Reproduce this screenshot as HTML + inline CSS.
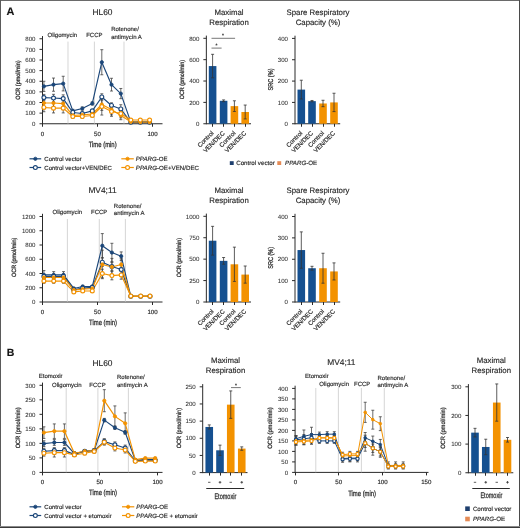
<!DOCTYPE html>
<html><head><meta charset="utf-8"><style>
html,body{margin:0;padding:0;background:#fff;}
body{width:520px;height:528px;overflow:hidden;}
svg{display:block;will-change:transform;} text{stroke:#2a2a2a;stroke-width:0.16px;text-rendering:geometricPrecision;} text.t{stroke-width:0.26px;} text.k{stroke-width:0.06px;fill:#333;}
</style></head><body>
<svg width="520" height="528" viewBox="0 0 520 528" font-family='"Liberation Sans", sans-serif'>
<rect x="0" y="0" width="520" height="528" fill="#fff"/>
<text x="6.6" y="14.6" font-size="10.9" text-anchor="start" font-weight="bold" font-style="normal" fill="#111">A</text>
<text x="6.8" y="355.8" font-size="10.5" text-anchor="start" font-weight="bold" font-style="normal" fill="#111">B</text>
<text x="102.5" y="15" font-size="8.4" text-anchor="middle" font-weight="normal" font-style="normal" fill="#2a2a2a">HL60</text>
<line x1="42.5" y1="36.05" x2="42.5" y2="124.25" stroke="#2a2a2a" stroke-width="1"/>
<line x1="39.5" y1="123.75" x2="42.5" y2="123.75" stroke="#2a2a2a" stroke-width="1"/>
<text x="35.5" y="125.95" font-size="6.1" text-anchor="end" font-weight="normal" font-style="normal" fill="#2a2a2a" class="k">0</text>
<line x1="39.5" y1="113.12" x2="42.5" y2="113.12" stroke="#2a2a2a" stroke-width="1"/>
<text x="35.5" y="115.33" font-size="6.1" text-anchor="end" font-weight="normal" font-style="normal" fill="#2a2a2a" class="k">100</text>
<line x1="39.5" y1="102.5" x2="42.5" y2="102.5" stroke="#2a2a2a" stroke-width="1"/>
<text x="35.5" y="104.7" font-size="6.1" text-anchor="end" font-weight="normal" font-style="normal" fill="#2a2a2a" class="k">200</text>
<line x1="39.5" y1="91.88" x2="42.5" y2="91.88" stroke="#2a2a2a" stroke-width="1"/>
<text x="35.5" y="94.08" font-size="6.1" text-anchor="end" font-weight="normal" font-style="normal" fill="#2a2a2a" class="k">300</text>
<line x1="39.5" y1="81.25" x2="42.5" y2="81.25" stroke="#2a2a2a" stroke-width="1"/>
<text x="35.5" y="83.45" font-size="6.1" text-anchor="end" font-weight="normal" font-style="normal" fill="#2a2a2a" class="k">400</text>
<line x1="39.5" y1="70.62" x2="42.5" y2="70.62" stroke="#2a2a2a" stroke-width="1"/>
<text x="35.5" y="72.83" font-size="6.1" text-anchor="end" font-weight="normal" font-style="normal" fill="#2a2a2a" class="k">500</text>
<line x1="39.5" y1="60" x2="42.5" y2="60" stroke="#2a2a2a" stroke-width="1"/>
<text x="35.5" y="62.2" font-size="6.1" text-anchor="end" font-weight="normal" font-style="normal" fill="#2a2a2a" class="k">600</text>
<line x1="39.5" y1="49.38" x2="42.5" y2="49.38" stroke="#2a2a2a" stroke-width="1"/>
<text x="35.5" y="51.58" font-size="6.1" text-anchor="end" font-weight="normal" font-style="normal" fill="#2a2a2a" class="k">700</text>
<line x1="39.5" y1="38.75" x2="42.5" y2="38.75" stroke="#2a2a2a" stroke-width="1"/>
<text x="35.5" y="40.95" font-size="6.1" text-anchor="end" font-weight="normal" font-style="normal" fill="#2a2a2a" class="k">800</text>
<line x1="42.5" y1="123.75" x2="162.5" y2="123.75" stroke="#2a2a2a" stroke-width="1"/>
<line x1="68" y1="41.6" x2="68" y2="123.75" stroke="#c4c4c4" stroke-width="0.7"/>
<line x1="94.4" y1="41.6" x2="94.4" y2="123.75" stroke="#c4c4c4" stroke-width="0.7"/>
<line x1="124" y1="41.6" x2="124" y2="123.75" stroke="#c4c4c4" stroke-width="0.7"/>
<text x="47.5" y="37" font-size="6" text-anchor="start" font-weight="normal" font-style="normal" fill="#2a2a2a">Oligomycin</text>
<text x="86.2" y="37" font-size="6" text-anchor="start" font-weight="normal" font-style="normal" fill="#2a2a2a">FCCP</text>
<text x="111.2" y="31.2" font-size="6" text-anchor="start" font-weight="normal" font-style="normal" fill="#2a2a2a">Rotenone/</text>
<text x="111.2" y="38.6" font-size="6" text-anchor="start" font-weight="normal" font-style="normal" fill="#2a2a2a">antimycin A</text>
<line x1="42.5" y1="123.75" x2="42.5" y2="126.75" stroke="#2a2a2a" stroke-width="1"/>
<text x="42.5" y="135.6" font-size="6.1" text-anchor="middle" font-weight="normal" font-style="normal" fill="#2a2a2a">0</text>
<line x1="97.5" y1="123.75" x2="97.5" y2="126.75" stroke="#2a2a2a" stroke-width="1"/>
<text x="97.5" y="135.6" font-size="6.1" text-anchor="middle" font-weight="normal" font-style="normal" fill="#2a2a2a">50</text>
<line x1="152.5" y1="123.75" x2="152.5" y2="126.75" stroke="#2a2a2a" stroke-width="1"/>
<text x="152.5" y="135.6" font-size="6.1" text-anchor="middle" font-weight="normal" font-style="normal" fill="#2a2a2a">100</text>
<text class="t" x="102.65" y="146.7" font-size="7.6" text-anchor="middle" fill="#2a2a2a" textLength="27.9" lengthAdjust="spacingAndGlyphs">Time (min)</text>
<text class="t" x="19.6" y="80.1" font-size="6.2" text-anchor="middle" fill="#2a2a2a" transform="rotate(-90 19.6 80.1)" textLength="39.5" lengthAdjust="spacingAndGlyphs">OCR (pmol/min)</text>
<line x1="43.9" y1="81.25" x2="43.9" y2="91.45" stroke="#3a3a3a" stroke-width="0.75"/>
<line x1="42.4" y1="81.25" x2="45.4" y2="81.25" stroke="#3a3a3a" stroke-width="0.75"/>
<line x1="42.4" y1="91.45" x2="45.4" y2="91.45" stroke="#3a3a3a" stroke-width="0.75"/>
<line x1="53.5" y1="78.06" x2="53.5" y2="91.24" stroke="#3a3a3a" stroke-width="0.75"/>
<line x1="52" y1="78.06" x2="55" y2="78.06" stroke="#3a3a3a" stroke-width="0.75"/>
<line x1="52" y1="91.24" x2="55" y2="91.24" stroke="#3a3a3a" stroke-width="0.75"/>
<line x1="63.2" y1="76.26" x2="63.2" y2="90.92" stroke="#3a3a3a" stroke-width="0.75"/>
<line x1="61.7" y1="76.26" x2="64.7" y2="76.26" stroke="#3a3a3a" stroke-width="0.75"/>
<line x1="61.7" y1="90.92" x2="64.7" y2="90.92" stroke="#3a3a3a" stroke-width="0.75"/>
<line x1="72.8" y1="109.3" x2="72.8" y2="112.49" stroke="#3a3a3a" stroke-width="0.75"/>
<line x1="71.3" y1="109.3" x2="74.3" y2="109.3" stroke="#3a3a3a" stroke-width="0.75"/>
<line x1="71.3" y1="112.49" x2="74.3" y2="112.49" stroke="#3a3a3a" stroke-width="0.75"/>
<line x1="82.3" y1="106.96" x2="82.3" y2="110.15" stroke="#3a3a3a" stroke-width="0.75"/>
<line x1="80.8" y1="106.96" x2="83.8" y2="106.96" stroke="#3a3a3a" stroke-width="0.75"/>
<line x1="80.8" y1="110.15" x2="83.8" y2="110.15" stroke="#3a3a3a" stroke-width="0.75"/>
<line x1="92.3" y1="101.86" x2="92.3" y2="105.05" stroke="#3a3a3a" stroke-width="0.75"/>
<line x1="90.8" y1="101.86" x2="93.8" y2="101.86" stroke="#3a3a3a" stroke-width="0.75"/>
<line x1="90.8" y1="105.05" x2="93.8" y2="105.05" stroke="#3a3a3a" stroke-width="0.75"/>
<line x1="101.8" y1="49.69" x2="101.8" y2="74.77" stroke="#3a3a3a" stroke-width="0.75"/>
<line x1="100.3" y1="49.69" x2="103.3" y2="49.69" stroke="#3a3a3a" stroke-width="0.75"/>
<line x1="100.3" y1="74.77" x2="103.3" y2="74.77" stroke="#3a3a3a" stroke-width="0.75"/>
<line x1="111.5" y1="78.28" x2="111.5" y2="91.03" stroke="#3a3a3a" stroke-width="0.75"/>
<line x1="110" y1="78.28" x2="113" y2="78.28" stroke="#3a3a3a" stroke-width="0.75"/>
<line x1="110" y1="91.03" x2="113" y2="91.03" stroke="#3a3a3a" stroke-width="0.75"/>
<line x1="120.8" y1="88.47" x2="120.8" y2="98.67" stroke="#3a3a3a" stroke-width="0.75"/>
<line x1="119.3" y1="88.47" x2="122.3" y2="88.47" stroke="#3a3a3a" stroke-width="0.75"/>
<line x1="119.3" y1="98.67" x2="122.3" y2="98.67" stroke="#3a3a3a" stroke-width="0.75"/>
<line x1="130.8" y1="121.62" x2="130.8" y2="122.69" stroke="#3a3a3a" stroke-width="0.75"/>
<line x1="129.3" y1="121.62" x2="132.3" y2="121.62" stroke="#3a3a3a" stroke-width="0.75"/>
<line x1="129.3" y1="122.69" x2="132.3" y2="122.69" stroke="#3a3a3a" stroke-width="0.75"/>
<line x1="140.3" y1="121.62" x2="140.3" y2="122.69" stroke="#3a3a3a" stroke-width="0.75"/>
<line x1="138.8" y1="121.62" x2="141.8" y2="121.62" stroke="#3a3a3a" stroke-width="0.75"/>
<line x1="138.8" y1="122.69" x2="141.8" y2="122.69" stroke="#3a3a3a" stroke-width="0.75"/>
<line x1="149.6" y1="121.62" x2="149.6" y2="122.69" stroke="#3a3a3a" stroke-width="0.75"/>
<line x1="148.1" y1="121.62" x2="151.1" y2="121.62" stroke="#3a3a3a" stroke-width="0.75"/>
<line x1="148.1" y1="122.69" x2="151.1" y2="122.69" stroke="#3a3a3a" stroke-width="0.75"/>
<polyline points="43.9,86.35 53.5,84.65 63.2,83.59 72.8,110.89 82.3,108.56 92.3,103.46 101.8,62.23 111.5,84.65 120.8,93.58 130.8,122.16 140.3,122.16 149.6,122.16" fill="none" stroke="#1b4679" stroke-width="1.15" stroke-linejoin="round"/>
<line x1="43.9" y1="94.42" x2="43.9" y2="100.8" stroke="#3a3a3a" stroke-width="0.75"/>
<line x1="42.4" y1="94.42" x2="45.4" y2="94.42" stroke="#3a3a3a" stroke-width="0.75"/>
<line x1="42.4" y1="100.8" x2="45.4" y2="100.8" stroke="#3a3a3a" stroke-width="0.75"/>
<line x1="53.5" y1="94.32" x2="53.5" y2="101.76" stroke="#3a3a3a" stroke-width="0.75"/>
<line x1="52" y1="94.32" x2="55" y2="94.32" stroke="#3a3a3a" stroke-width="0.75"/>
<line x1="52" y1="101.76" x2="55" y2="101.76" stroke="#3a3a3a" stroke-width="0.75"/>
<line x1="63.2" y1="94.85" x2="63.2" y2="102.29" stroke="#3a3a3a" stroke-width="0.75"/>
<line x1="61.7" y1="94.85" x2="64.7" y2="94.85" stroke="#3a3a3a" stroke-width="0.75"/>
<line x1="61.7" y1="102.29" x2="64.7" y2="102.29" stroke="#3a3a3a" stroke-width="0.75"/>
<line x1="72.8" y1="111.21" x2="72.8" y2="113.76" stroke="#3a3a3a" stroke-width="0.75"/>
<line x1="71.3" y1="111.21" x2="74.3" y2="111.21" stroke="#3a3a3a" stroke-width="0.75"/>
<line x1="71.3" y1="113.76" x2="74.3" y2="113.76" stroke="#3a3a3a" stroke-width="0.75"/>
<line x1="82.3" y1="112.28" x2="82.3" y2="114.83" stroke="#3a3a3a" stroke-width="0.75"/>
<line x1="80.8" y1="112.28" x2="83.8" y2="112.28" stroke="#3a3a3a" stroke-width="0.75"/>
<line x1="80.8" y1="114.83" x2="83.8" y2="114.83" stroke="#3a3a3a" stroke-width="0.75"/>
<line x1="92.3" y1="109.62" x2="92.3" y2="112.17" stroke="#3a3a3a" stroke-width="0.75"/>
<line x1="90.8" y1="109.62" x2="93.8" y2="109.62" stroke="#3a3a3a" stroke-width="0.75"/>
<line x1="90.8" y1="112.17" x2="93.8" y2="112.17" stroke="#3a3a3a" stroke-width="0.75"/>
<line x1="101.8" y1="93.79" x2="101.8" y2="100.16" stroke="#3a3a3a" stroke-width="0.75"/>
<line x1="100.3" y1="93.79" x2="103.3" y2="93.79" stroke="#3a3a3a" stroke-width="0.75"/>
<line x1="100.3" y1="100.16" x2="103.3" y2="100.16" stroke="#3a3a3a" stroke-width="0.75"/>
<line x1="111.5" y1="102.82" x2="111.5" y2="108.13" stroke="#3a3a3a" stroke-width="0.75"/>
<line x1="110" y1="102.82" x2="113" y2="102.82" stroke="#3a3a3a" stroke-width="0.75"/>
<line x1="110" y1="108.13" x2="113" y2="108.13" stroke="#3a3a3a" stroke-width="0.75"/>
<line x1="120.8" y1="104.73" x2="120.8" y2="113.23" stroke="#3a3a3a" stroke-width="0.75"/>
<line x1="119.3" y1="104.73" x2="122.3" y2="104.73" stroke="#3a3a3a" stroke-width="0.75"/>
<line x1="119.3" y1="113.23" x2="122.3" y2="113.23" stroke="#3a3a3a" stroke-width="0.75"/>
<line x1="130.8" y1="121.73" x2="130.8" y2="122.58" stroke="#3a3a3a" stroke-width="0.75"/>
<line x1="129.3" y1="121.73" x2="132.3" y2="121.73" stroke="#3a3a3a" stroke-width="0.75"/>
<line x1="129.3" y1="122.58" x2="132.3" y2="122.58" stroke="#3a3a3a" stroke-width="0.75"/>
<line x1="140.3" y1="121.73" x2="140.3" y2="122.58" stroke="#3a3a3a" stroke-width="0.75"/>
<line x1="138.8" y1="121.73" x2="141.8" y2="121.73" stroke="#3a3a3a" stroke-width="0.75"/>
<line x1="138.8" y1="122.58" x2="141.8" y2="122.58" stroke="#3a3a3a" stroke-width="0.75"/>
<line x1="149.6" y1="121.73" x2="149.6" y2="122.58" stroke="#3a3a3a" stroke-width="0.75"/>
<line x1="148.1" y1="121.73" x2="151.1" y2="121.73" stroke="#3a3a3a" stroke-width="0.75"/>
<line x1="148.1" y1="122.58" x2="151.1" y2="122.58" stroke="#3a3a3a" stroke-width="0.75"/>
<polyline points="43.9,97.61 53.5,98.04 63.2,98.57 72.8,112.49 82.3,113.55 92.3,110.89 101.8,96.97 111.5,105.47 120.8,108.98 130.8,122.16 140.3,122.16 149.6,122.16" fill="none" stroke="#1b4679" stroke-width="1.15" stroke-linejoin="round"/>
<line x1="43.9" y1="98.78" x2="43.9" y2="107.28" stroke="#3a3a3a" stroke-width="0.75"/>
<line x1="42.4" y1="98.78" x2="45.4" y2="98.78" stroke="#3a3a3a" stroke-width="0.75"/>
<line x1="42.4" y1="107.28" x2="45.4" y2="107.28" stroke="#3a3a3a" stroke-width="0.75"/>
<line x1="53.5" y1="97.72" x2="53.5" y2="108.34" stroke="#3a3a3a" stroke-width="0.75"/>
<line x1="52" y1="97.72" x2="55" y2="97.72" stroke="#3a3a3a" stroke-width="0.75"/>
<line x1="52" y1="108.34" x2="55" y2="108.34" stroke="#3a3a3a" stroke-width="0.75"/>
<line x1="63.2" y1="97.72" x2="63.2" y2="109.41" stroke="#3a3a3a" stroke-width="0.75"/>
<line x1="61.7" y1="97.72" x2="64.7" y2="97.72" stroke="#3a3a3a" stroke-width="0.75"/>
<line x1="61.7" y1="109.41" x2="64.7" y2="109.41" stroke="#3a3a3a" stroke-width="0.75"/>
<line x1="72.8" y1="113.87" x2="72.8" y2="117.06" stroke="#3a3a3a" stroke-width="0.75"/>
<line x1="71.3" y1="113.87" x2="74.3" y2="113.87" stroke="#3a3a3a" stroke-width="0.75"/>
<line x1="71.3" y1="117.06" x2="74.3" y2="117.06" stroke="#3a3a3a" stroke-width="0.75"/>
<line x1="82.3" y1="113.34" x2="82.3" y2="116.53" stroke="#3a3a3a" stroke-width="0.75"/>
<line x1="80.8" y1="113.34" x2="83.8" y2="113.34" stroke="#3a3a3a" stroke-width="0.75"/>
<line x1="80.8" y1="116.53" x2="83.8" y2="116.53" stroke="#3a3a3a" stroke-width="0.75"/>
<line x1="92.3" y1="112.38" x2="92.3" y2="115.57" stroke="#3a3a3a" stroke-width="0.75"/>
<line x1="90.8" y1="112.38" x2="93.8" y2="112.38" stroke="#3a3a3a" stroke-width="0.75"/>
<line x1="90.8" y1="115.57" x2="93.8" y2="115.57" stroke="#3a3a3a" stroke-width="0.75"/>
<line x1="101.8" y1="98.67" x2="101.8" y2="110.36" stroke="#3a3a3a" stroke-width="0.75"/>
<line x1="100.3" y1="98.67" x2="103.3" y2="98.67" stroke="#3a3a3a" stroke-width="0.75"/>
<line x1="100.3" y1="110.36" x2="103.3" y2="110.36" stroke="#3a3a3a" stroke-width="0.75"/>
<line x1="111.5" y1="104.2" x2="111.5" y2="114.83" stroke="#3a3a3a" stroke-width="0.75"/>
<line x1="110" y1="104.2" x2="113" y2="104.2" stroke="#3a3a3a" stroke-width="0.75"/>
<line x1="110" y1="114.83" x2="113" y2="114.83" stroke="#3a3a3a" stroke-width="0.75"/>
<line x1="120.8" y1="111.21" x2="120.8" y2="119.71" stroke="#3a3a3a" stroke-width="0.75"/>
<line x1="119.3" y1="111.21" x2="122.3" y2="111.21" stroke="#3a3a3a" stroke-width="0.75"/>
<line x1="119.3" y1="119.71" x2="122.3" y2="119.71" stroke="#3a3a3a" stroke-width="0.75"/>
<line x1="130.8" y1="121.31" x2="130.8" y2="122.37" stroke="#3a3a3a" stroke-width="0.75"/>
<line x1="129.3" y1="121.31" x2="132.3" y2="121.31" stroke="#3a3a3a" stroke-width="0.75"/>
<line x1="129.3" y1="122.37" x2="132.3" y2="122.37" stroke="#3a3a3a" stroke-width="0.75"/>
<line x1="140.3" y1="121.62" x2="140.3" y2="122.69" stroke="#3a3a3a" stroke-width="0.75"/>
<line x1="138.8" y1="121.62" x2="141.8" y2="121.62" stroke="#3a3a3a" stroke-width="0.75"/>
<line x1="138.8" y1="122.69" x2="141.8" y2="122.69" stroke="#3a3a3a" stroke-width="0.75"/>
<line x1="149.6" y1="121.62" x2="149.6" y2="122.69" stroke="#3a3a3a" stroke-width="0.75"/>
<line x1="148.1" y1="121.62" x2="151.1" y2="121.62" stroke="#3a3a3a" stroke-width="0.75"/>
<line x1="148.1" y1="122.69" x2="151.1" y2="122.69" stroke="#3a3a3a" stroke-width="0.75"/>
<polyline points="43.9,103.03 53.5,103.03 63.2,103.56 72.8,115.46 82.3,114.93 92.3,113.97 101.8,104.52 111.5,109.51 120.8,115.46 130.8,121.84 140.3,122.16 149.6,122.16" fill="none" stroke="#F39200" stroke-width="1.15" stroke-linejoin="round"/>
<line x1="43.9" y1="103.24" x2="43.9" y2="111.74" stroke="#3a3a3a" stroke-width="0.75"/>
<line x1="42.4" y1="103.24" x2="45.4" y2="103.24" stroke="#3a3a3a" stroke-width="0.75"/>
<line x1="42.4" y1="111.74" x2="45.4" y2="111.74" stroke="#3a3a3a" stroke-width="0.75"/>
<line x1="53.5" y1="103.35" x2="53.5" y2="112.91" stroke="#3a3a3a" stroke-width="0.75"/>
<line x1="52" y1="103.35" x2="55" y2="103.35" stroke="#3a3a3a" stroke-width="0.75"/>
<line x1="52" y1="112.91" x2="55" y2="112.91" stroke="#3a3a3a" stroke-width="0.75"/>
<line x1="63.2" y1="103.35" x2="63.2" y2="112.91" stroke="#3a3a3a" stroke-width="0.75"/>
<line x1="61.7" y1="103.35" x2="64.7" y2="103.35" stroke="#3a3a3a" stroke-width="0.75"/>
<line x1="61.7" y1="112.91" x2="64.7" y2="112.91" stroke="#3a3a3a" stroke-width="0.75"/>
<line x1="72.8" y1="114.93" x2="72.8" y2="118.12" stroke="#3a3a3a" stroke-width="0.75"/>
<line x1="71.3" y1="114.93" x2="74.3" y2="114.93" stroke="#3a3a3a" stroke-width="0.75"/>
<line x1="71.3" y1="118.12" x2="74.3" y2="118.12" stroke="#3a3a3a" stroke-width="0.75"/>
<line x1="82.3" y1="114.93" x2="82.3" y2="118.12" stroke="#3a3a3a" stroke-width="0.75"/>
<line x1="80.8" y1="114.93" x2="83.8" y2="114.93" stroke="#3a3a3a" stroke-width="0.75"/>
<line x1="80.8" y1="118.12" x2="83.8" y2="118.12" stroke="#3a3a3a" stroke-width="0.75"/>
<line x1="92.3" y1="113.87" x2="92.3" y2="117.06" stroke="#3a3a3a" stroke-width="0.75"/>
<line x1="90.8" y1="113.87" x2="93.8" y2="113.87" stroke="#3a3a3a" stroke-width="0.75"/>
<line x1="90.8" y1="117.06" x2="93.8" y2="117.06" stroke="#3a3a3a" stroke-width="0.75"/>
<line x1="101.8" y1="98.04" x2="101.8" y2="115.04" stroke="#3a3a3a" stroke-width="0.75"/>
<line x1="100.3" y1="98.04" x2="103.3" y2="98.04" stroke="#3a3a3a" stroke-width="0.75"/>
<line x1="100.3" y1="115.04" x2="103.3" y2="115.04" stroke="#3a3a3a" stroke-width="0.75"/>
<line x1="111.5" y1="106.75" x2="111.5" y2="116.31" stroke="#3a3a3a" stroke-width="0.75"/>
<line x1="110" y1="106.75" x2="113" y2="106.75" stroke="#3a3a3a" stroke-width="0.75"/>
<line x1="110" y1="116.31" x2="113" y2="116.31" stroke="#3a3a3a" stroke-width="0.75"/>
<line x1="120.8" y1="109.3" x2="120.8" y2="117.8" stroke="#3a3a3a" stroke-width="0.75"/>
<line x1="119.3" y1="109.3" x2="122.3" y2="109.3" stroke="#3a3a3a" stroke-width="0.75"/>
<line x1="119.3" y1="117.8" x2="122.3" y2="117.8" stroke="#3a3a3a" stroke-width="0.75"/>
<line x1="130.8" y1="119.5" x2="130.8" y2="120.56" stroke="#3a3a3a" stroke-width="0.75"/>
<line x1="129.3" y1="119.5" x2="132.3" y2="119.5" stroke="#3a3a3a" stroke-width="0.75"/>
<line x1="129.3" y1="120.56" x2="132.3" y2="120.56" stroke="#3a3a3a" stroke-width="0.75"/>
<line x1="140.3" y1="119.5" x2="140.3" y2="120.56" stroke="#3a3a3a" stroke-width="0.75"/>
<line x1="138.8" y1="119.5" x2="141.8" y2="119.5" stroke="#3a3a3a" stroke-width="0.75"/>
<line x1="138.8" y1="120.56" x2="141.8" y2="120.56" stroke="#3a3a3a" stroke-width="0.75"/>
<line x1="149.6" y1="119.5" x2="149.6" y2="120.56" stroke="#3a3a3a" stroke-width="0.75"/>
<line x1="148.1" y1="119.5" x2="151.1" y2="119.5" stroke="#3a3a3a" stroke-width="0.75"/>
<line x1="148.1" y1="120.56" x2="151.1" y2="120.56" stroke="#3a3a3a" stroke-width="0.75"/>
<polyline points="43.9,107.49 53.5,108.13 63.2,108.13 72.8,116.53 82.3,116.53 92.3,115.46 101.8,106.54 111.5,111.53 120.8,113.55 130.8,120.03 140.3,120.03 149.6,120.03" fill="none" stroke="#F39200" stroke-width="1.15" stroke-linejoin="round"/>
<circle cx="43.9" cy="86.35" r="1.65" fill="#1b4679" stroke="#1b4679" stroke-width="0.8"/>
<circle cx="53.5" cy="84.65" r="1.65" fill="#1b4679" stroke="#1b4679" stroke-width="0.8"/>
<circle cx="63.2" cy="83.59" r="1.65" fill="#1b4679" stroke="#1b4679" stroke-width="0.8"/>
<circle cx="72.8" cy="110.89" r="1.65" fill="#1b4679" stroke="#1b4679" stroke-width="0.8"/>
<circle cx="82.3" cy="108.56" r="1.65" fill="#1b4679" stroke="#1b4679" stroke-width="0.8"/>
<circle cx="92.3" cy="103.46" r="1.65" fill="#1b4679" stroke="#1b4679" stroke-width="0.8"/>
<circle cx="101.8" cy="62.23" r="1.65" fill="#1b4679" stroke="#1b4679" stroke-width="0.8"/>
<circle cx="111.5" cy="84.65" r="1.65" fill="#1b4679" stroke="#1b4679" stroke-width="0.8"/>
<circle cx="120.8" cy="93.58" r="1.65" fill="#1b4679" stroke="#1b4679" stroke-width="0.8"/>
<circle cx="130.8" cy="122.16" r="1.65" fill="#1b4679" stroke="#1b4679" stroke-width="0.8"/>
<circle cx="140.3" cy="122.16" r="1.65" fill="#1b4679" stroke="#1b4679" stroke-width="0.8"/>
<circle cx="149.6" cy="122.16" r="1.65" fill="#1b4679" stroke="#1b4679" stroke-width="0.8"/>
<circle cx="43.9" cy="97.61" r="1.95" fill="#fff" stroke="#1b4679" stroke-width="1.15"/>
<circle cx="53.5" cy="98.04" r="1.95" fill="#fff" stroke="#1b4679" stroke-width="1.15"/>
<circle cx="63.2" cy="98.57" r="1.95" fill="#fff" stroke="#1b4679" stroke-width="1.15"/>
<circle cx="72.8" cy="112.49" r="1.95" fill="#fff" stroke="#1b4679" stroke-width="1.15"/>
<circle cx="82.3" cy="113.55" r="1.95" fill="#fff" stroke="#1b4679" stroke-width="1.15"/>
<circle cx="92.3" cy="110.89" r="1.95" fill="#fff" stroke="#1b4679" stroke-width="1.15"/>
<circle cx="101.8" cy="96.97" r="1.95" fill="#fff" stroke="#1b4679" stroke-width="1.15"/>
<circle cx="111.5" cy="105.47" r="1.95" fill="#fff" stroke="#1b4679" stroke-width="1.15"/>
<circle cx="120.8" cy="108.98" r="1.95" fill="#fff" stroke="#1b4679" stroke-width="1.15"/>
<circle cx="130.8" cy="122.16" r="1.95" fill="#fff" stroke="#1b4679" stroke-width="1.15"/>
<circle cx="140.3" cy="122.16" r="1.95" fill="#fff" stroke="#1b4679" stroke-width="1.15"/>
<circle cx="149.6" cy="122.16" r="1.95" fill="#fff" stroke="#1b4679" stroke-width="1.15"/>
<circle cx="43.9" cy="103.03" r="1.65" fill="#F39200" stroke="#F39200" stroke-width="0.8"/>
<circle cx="53.5" cy="103.03" r="1.65" fill="#F39200" stroke="#F39200" stroke-width="0.8"/>
<circle cx="63.2" cy="103.56" r="1.65" fill="#F39200" stroke="#F39200" stroke-width="0.8"/>
<circle cx="72.8" cy="115.46" r="1.65" fill="#F39200" stroke="#F39200" stroke-width="0.8"/>
<circle cx="82.3" cy="114.93" r="1.65" fill="#F39200" stroke="#F39200" stroke-width="0.8"/>
<circle cx="92.3" cy="113.97" r="1.65" fill="#F39200" stroke="#F39200" stroke-width="0.8"/>
<circle cx="101.8" cy="104.52" r="1.65" fill="#F39200" stroke="#F39200" stroke-width="0.8"/>
<circle cx="111.5" cy="109.51" r="1.65" fill="#F39200" stroke="#F39200" stroke-width="0.8"/>
<circle cx="120.8" cy="115.46" r="1.65" fill="#F39200" stroke="#F39200" stroke-width="0.8"/>
<circle cx="130.8" cy="121.84" r="1.65" fill="#F39200" stroke="#F39200" stroke-width="0.8"/>
<circle cx="140.3" cy="122.16" r="1.65" fill="#F39200" stroke="#F39200" stroke-width="0.8"/>
<circle cx="149.6" cy="122.16" r="1.65" fill="#F39200" stroke="#F39200" stroke-width="0.8"/>
<circle cx="43.9" cy="107.49" r="1.95" fill="#fff" stroke="#F39200" stroke-width="1.15"/>
<circle cx="53.5" cy="108.13" r="1.95" fill="#fff" stroke="#F39200" stroke-width="1.15"/>
<circle cx="63.2" cy="108.13" r="1.95" fill="#fff" stroke="#F39200" stroke-width="1.15"/>
<circle cx="72.8" cy="116.53" r="1.95" fill="#fff" stroke="#F39200" stroke-width="1.15"/>
<circle cx="82.3" cy="116.53" r="1.95" fill="#fff" stroke="#F39200" stroke-width="1.15"/>
<circle cx="92.3" cy="115.46" r="1.95" fill="#fff" stroke="#F39200" stroke-width="1.15"/>
<circle cx="101.8" cy="106.54" r="1.95" fill="#fff" stroke="#F39200" stroke-width="1.15"/>
<circle cx="111.5" cy="111.53" r="1.95" fill="#fff" stroke="#F39200" stroke-width="1.15"/>
<circle cx="120.8" cy="113.55" r="1.95" fill="#fff" stroke="#F39200" stroke-width="1.15"/>
<circle cx="130.8" cy="120.03" r="1.95" fill="#fff" stroke="#F39200" stroke-width="1.15"/>
<circle cx="140.3" cy="120.03" r="1.95" fill="#fff" stroke="#F39200" stroke-width="1.15"/>
<circle cx="149.6" cy="120.03" r="1.95" fill="#fff" stroke="#F39200" stroke-width="1.15"/>
<line x1="29.5" y1="158.8" x2="41.2" y2="158.8" stroke="#1b4679" stroke-width="1.2"/>
<circle cx="35.35" cy="158.8" r="1.65" fill="#1b4679" stroke="#1b4679" stroke-width="0.8"/>
<text x="44.3" y="160.9" font-size="6.1" fill="#2a2a2a" textLength="37.4" lengthAdjust="spacingAndGlyphs">Control vector</text>
<line x1="29.5" y1="167.5" x2="41.2" y2="167.5" stroke="#1b4679" stroke-width="1.2"/>
<circle cx="35.35" cy="167.5" r="1.95" fill="#fff" stroke="#1b4679" stroke-width="1.15"/>
<text x="44.3" y="169.6" font-size="6.1" fill="#2a2a2a" textLength="67.6" lengthAdjust="spacingAndGlyphs">Control vector+VEN/DEC</text>
<line x1="121.3" y1="158.8" x2="133.8" y2="158.8" stroke="#F39200" stroke-width="1.2"/>
<circle cx="127.55" cy="158.8" r="1.65" fill="#F39200" stroke="#F39200" stroke-width="0.8"/>
<text x="135.8" y="160.9" font-size="6.1" fill="#2a2a2a"><tspan font-style="italic">PPARG</tspan>-OE</text>
<line x1="121.3" y1="167.5" x2="133.8" y2="167.5" stroke="#F39200" stroke-width="1.2"/>
<circle cx="127.55" cy="167.5" r="1.95" fill="#fff" stroke="#F39200" stroke-width="1.15"/>
<text x="135.8" y="169.6" font-size="6.1" fill="#2a2a2a" textLength="63.2" lengthAdjust="spacingAndGlyphs"><tspan font-style="italic">PPARG</tspan>-OE+VEN/DEC</text>
<text x="229" y="15" font-size="7.8" text-anchor="middle" font-weight="normal" font-style="normal" fill="#2a2a2a">Maximal</text>
<text x="229" y="25" font-size="7.8" text-anchor="middle" font-weight="normal" font-style="normal" fill="#2a2a2a">Respiration</text>
<line x1="206.35" y1="35.6" x2="206.35" y2="124.25" stroke="#2a2a2a" stroke-width="1"/>
<line x1="203.35" y1="123.75" x2="206.35" y2="123.75" stroke="#2a2a2a" stroke-width="1"/>
<text x="199.35" y="125.95" font-size="6.1" text-anchor="end" font-weight="normal" font-style="normal" fill="#2a2a2a" class="k">0</text>
<line x1="203.35" y1="102.39" x2="206.35" y2="102.39" stroke="#2a2a2a" stroke-width="1"/>
<text x="199.35" y="104.59" font-size="6.1" text-anchor="end" font-weight="normal" font-style="normal" fill="#2a2a2a" class="k">200</text>
<line x1="203.35" y1="81.03" x2="206.35" y2="81.03" stroke="#2a2a2a" stroke-width="1"/>
<text x="199.35" y="83.23" font-size="6.1" text-anchor="end" font-weight="normal" font-style="normal" fill="#2a2a2a" class="k">400</text>
<line x1="203.35" y1="59.66" x2="206.35" y2="59.66" stroke="#2a2a2a" stroke-width="1"/>
<text x="199.35" y="61.86" font-size="6.1" text-anchor="end" font-weight="normal" font-style="normal" fill="#2a2a2a" class="k">600</text>
<line x1="203.35" y1="38.3" x2="206.35" y2="38.3" stroke="#2a2a2a" stroke-width="1"/>
<text x="199.35" y="40.5" font-size="6.1" text-anchor="end" font-weight="normal" font-style="normal" fill="#2a2a2a" class="k">800</text>
<line x1="206.35" y1="123.75" x2="251" y2="123.75" stroke="#2a2a2a" stroke-width="1"/>
<text class="t" x="183.7" y="79.6" font-size="6.2" text-anchor="middle" fill="#2a2a2a" transform="rotate(-90 183.7 79.6)" textLength="39.5" lengthAdjust="spacingAndGlyphs">OCR (pmol/min)</text>
<rect x="208.8" y="66.07" width="7.6" height="57.68" fill="#155090"/>
<rect x="219.8" y="100.79" width="7.6" height="22.96" fill="#155090"/>
<rect x="230.6" y="106.13" width="7.6" height="17.62" fill="#F39200"/>
<rect x="241.4" y="112" width="7.6" height="11.75" fill="#F39200"/>
<line x1="212.6" y1="54.32" x2="212.6" y2="77.82" stroke="#333" stroke-width="0.8"/>
<line x1="211.1" y1="54.32" x2="214.1" y2="54.32" stroke="#333" stroke-width="0.8"/>
<line x1="211.1" y1="77.82" x2="214.1" y2="77.82" stroke="#333" stroke-width="0.8"/>
<line x1="223.6" y1="99.93" x2="223.6" y2="101.64" stroke="#333" stroke-width="0.8"/>
<line x1="222.1" y1="99.93" x2="225.1" y2="99.93" stroke="#333" stroke-width="0.8"/>
<line x1="222.1" y1="101.64" x2="225.1" y2="101.64" stroke="#333" stroke-width="0.8"/>
<line x1="234.4" y1="100.79" x2="234.4" y2="111.47" stroke="#333" stroke-width="0.8"/>
<line x1="232.9" y1="100.79" x2="235.9" y2="100.79" stroke="#333" stroke-width="0.8"/>
<line x1="232.9" y1="111.47" x2="235.9" y2="111.47" stroke="#333" stroke-width="0.8"/>
<line x1="245.2" y1="105.06" x2="245.2" y2="118.94" stroke="#333" stroke-width="0.8"/>
<line x1="243.7" y1="105.06" x2="246.7" y2="105.06" stroke="#333" stroke-width="0.8"/>
<line x1="243.7" y1="118.94" x2="246.7" y2="118.94" stroke="#333" stroke-width="0.8"/>
<line x1="212.5" y1="123.75" x2="212.5" y2="126.75" stroke="#2a2a2a" stroke-width="1"/>
<line x1="223.5" y1="123.75" x2="223.5" y2="126.75" stroke="#2a2a2a" stroke-width="1"/>
<line x1="234.5" y1="123.75" x2="234.5" y2="126.75" stroke="#2a2a2a" stroke-width="1"/>
<line x1="245.5" y1="123.75" x2="245.5" y2="126.75" stroke="#2a2a2a" stroke-width="1"/>
<text x="214.1" y="133.55" font-size="6.2" fill="#2a2a2a" text-anchor="end" transform="rotate(-45 214.1 133.55)">Control</text>
<text x="225.1" y="133.55" font-size="6.2" fill="#2a2a2a" text-anchor="end" transform="rotate(-45 225.1 133.55)">VEN/DEC</text>
<text x="235.9" y="133.55" font-size="6.2" fill="#2a2a2a" text-anchor="end" transform="rotate(-45 235.9 133.55)">Control</text>
<text x="246.7" y="133.55" font-size="6.2" fill="#2a2a2a" text-anchor="end" transform="rotate(-45 246.7 133.55)">VEN/DEC</text>
<line x1="211.5" y1="48.1" x2="221.6" y2="48.1" stroke="#555" stroke-width="0.8"/>
<text x="216.6" y="47.2" font-size="5" text-anchor="middle" font-weight="normal" font-style="normal" fill="#2a2a2a">*</text>
<line x1="211.5" y1="38.3" x2="235.1" y2="38.3" stroke="#555" stroke-width="0.8"/>
<text x="223" y="37.2" font-size="5" text-anchor="middle" font-weight="normal" font-style="normal" fill="#2a2a2a">*</text>
<rect x="229.8" y="161.2" width="3.9" height="3.8" fill="#1e3f6e"/>
<text x="236.2" y="165.2" font-size="6.2" text-anchor="start" font-weight="normal" font-style="normal" fill="#2a2a2a">Control vector</text>
<rect x="277.3" y="161.2" width="3.9" height="3.8" fill="#E48A55"/>
<text x="285" y="165.2" font-size="6.2" fill="#2a2a2a"><tspan font-style="italic">PPARG</tspan>-OE</text>
<text x="318" y="15" font-size="7.8" text-anchor="middle" font-weight="normal" font-style="normal" fill="#2a2a2a">Spare Respiratory</text>
<text x="318" y="25" font-size="7.8" text-anchor="middle" font-weight="normal" font-style="normal" fill="#2a2a2a">Capacity (%)</text>
<line x1="295" y1="35.7" x2="295" y2="124.25" stroke="#2a2a2a" stroke-width="1"/>
<line x1="292" y1="123.75" x2="295" y2="123.75" stroke="#2a2a2a" stroke-width="1"/>
<text x="288" y="125.95" font-size="6.1" text-anchor="end" font-weight="normal" font-style="normal" fill="#2a2a2a" class="k">0</text>
<line x1="292" y1="102.41" x2="295" y2="102.41" stroke="#2a2a2a" stroke-width="1"/>
<text x="288" y="104.61" font-size="6.1" text-anchor="end" font-weight="normal" font-style="normal" fill="#2a2a2a" class="k">100</text>
<line x1="292" y1="81.08" x2="295" y2="81.08" stroke="#2a2a2a" stroke-width="1"/>
<text x="288" y="83.28" font-size="6.1" text-anchor="end" font-weight="normal" font-style="normal" fill="#2a2a2a" class="k">200</text>
<line x1="292" y1="59.74" x2="295" y2="59.74" stroke="#2a2a2a" stroke-width="1"/>
<text x="288" y="61.94" font-size="6.1" text-anchor="end" font-weight="normal" font-style="normal" fill="#2a2a2a" class="k">300</text>
<line x1="292" y1="38.4" x2="295" y2="38.4" stroke="#2a2a2a" stroke-width="1"/>
<text x="288" y="40.6" font-size="6.1" text-anchor="end" font-weight="normal" font-style="normal" fill="#2a2a2a" class="k">400</text>
<line x1="295" y1="123.75" x2="340.2" y2="123.75" stroke="#2a2a2a" stroke-width="1"/>
<text class="t" x="272.6" y="79.5" font-size="7" text-anchor="middle" fill="#2a2a2a" transform="rotate(-90 272.6 79.5)" textLength="22" lengthAdjust="spacingAndGlyphs">SRC (%)</text>
<rect x="297.5" y="89.61" width="7.6" height="34.14" fill="#155090"/>
<rect x="308.2" y="101.13" width="7.6" height="22.62" fill="#155090"/>
<rect x="319.2" y="103.48" width="7.6" height="20.27" fill="#F39200"/>
<rect x="330.2" y="102.41" width="7.6" height="21.34" fill="#F39200"/>
<line x1="301.3" y1="80.22" x2="301.3" y2="99" stroke="#333" stroke-width="0.8"/>
<line x1="299.8" y1="80.22" x2="302.8" y2="80.22" stroke="#333" stroke-width="0.8"/>
<line x1="299.8" y1="99" x2="302.8" y2="99" stroke="#333" stroke-width="0.8"/>
<line x1="312" y1="100.49" x2="312" y2="101.77" stroke="#333" stroke-width="0.8"/>
<line x1="310.5" y1="100.49" x2="313.5" y2="100.49" stroke="#333" stroke-width="0.8"/>
<line x1="310.5" y1="101.77" x2="313.5" y2="101.77" stroke="#333" stroke-width="0.8"/>
<line x1="323" y1="100.28" x2="323" y2="106.68" stroke="#333" stroke-width="0.8"/>
<line x1="321.5" y1="100.28" x2="324.5" y2="100.28" stroke="#333" stroke-width="0.8"/>
<line x1="321.5" y1="106.68" x2="324.5" y2="106.68" stroke="#333" stroke-width="0.8"/>
<line x1="334" y1="93.24" x2="334" y2="111.59" stroke="#333" stroke-width="0.8"/>
<line x1="332.5" y1="93.24" x2="335.5" y2="93.24" stroke="#333" stroke-width="0.8"/>
<line x1="332.5" y1="111.59" x2="335.5" y2="111.59" stroke="#333" stroke-width="0.8"/>
<line x1="301.5" y1="123.75" x2="301.5" y2="126.75" stroke="#2a2a2a" stroke-width="1"/>
<line x1="312.5" y1="123.75" x2="312.5" y2="126.75" stroke="#2a2a2a" stroke-width="1"/>
<line x1="323.5" y1="123.75" x2="323.5" y2="126.75" stroke="#2a2a2a" stroke-width="1"/>
<line x1="334.5" y1="123.75" x2="334.5" y2="126.75" stroke="#2a2a2a" stroke-width="1"/>
<text x="302.8" y="133.55" font-size="6.2" fill="#2a2a2a" text-anchor="end" transform="rotate(-45 302.8 133.55)">Control</text>
<text x="313.5" y="133.55" font-size="6.2" fill="#2a2a2a" text-anchor="end" transform="rotate(-45 313.5 133.55)">VEN/DEC</text>
<text x="324.5" y="133.55" font-size="6.2" fill="#2a2a2a" text-anchor="end" transform="rotate(-45 324.5 133.55)">Control</text>
<text x="335.5" y="133.55" font-size="6.2" fill="#2a2a2a" text-anchor="end" transform="rotate(-45 335.5 133.55)">VEN/DEC</text>
<text x="102.5" y="193" font-size="8.4" text-anchor="middle" font-weight="normal" font-style="normal" fill="#2a2a2a">MV4;11</text>
<line x1="42.5" y1="213.8" x2="42.5" y2="302.5" stroke="#2a2a2a" stroke-width="1"/>
<line x1="39.5" y1="302" x2="42.5" y2="302" stroke="#2a2a2a" stroke-width="1"/>
<text x="35.5" y="304.2" font-size="6.1" text-anchor="end" font-weight="normal" font-style="normal" fill="#2a2a2a" class="k">0</text>
<line x1="39.5" y1="287.75" x2="42.5" y2="287.75" stroke="#2a2a2a" stroke-width="1"/>
<text x="35.5" y="289.95" font-size="6.1" text-anchor="end" font-weight="normal" font-style="normal" fill="#2a2a2a" class="k">200</text>
<line x1="39.5" y1="273.5" x2="42.5" y2="273.5" stroke="#2a2a2a" stroke-width="1"/>
<text x="35.5" y="275.7" font-size="6.1" text-anchor="end" font-weight="normal" font-style="normal" fill="#2a2a2a" class="k">400</text>
<line x1="39.5" y1="259.25" x2="42.5" y2="259.25" stroke="#2a2a2a" stroke-width="1"/>
<text x="35.5" y="261.45" font-size="6.1" text-anchor="end" font-weight="normal" font-style="normal" fill="#2a2a2a" class="k">600</text>
<line x1="39.5" y1="245" x2="42.5" y2="245" stroke="#2a2a2a" stroke-width="1"/>
<text x="35.5" y="247.2" font-size="6.1" text-anchor="end" font-weight="normal" font-style="normal" fill="#2a2a2a" class="k">800</text>
<line x1="39.5" y1="230.75" x2="42.5" y2="230.75" stroke="#2a2a2a" stroke-width="1"/>
<text x="35.5" y="232.95" font-size="6.1" text-anchor="end" font-weight="normal" font-style="normal" fill="#2a2a2a" class="k">1000</text>
<line x1="39.5" y1="216.5" x2="42.5" y2="216.5" stroke="#2a2a2a" stroke-width="1"/>
<text x="35.5" y="218.7" font-size="6.1" text-anchor="end" font-weight="normal" font-style="normal" fill="#2a2a2a" class="k">1200</text>
<line x1="42.5" y1="302" x2="162.5" y2="302" stroke="#2a2a2a" stroke-width="1"/>
<line x1="67.4" y1="219" x2="67.4" y2="302" stroke="#c4c4c4" stroke-width="0.7"/>
<line x1="99.3" y1="219" x2="99.3" y2="302" stroke="#c4c4c4" stroke-width="0.7"/>
<line x1="125.4" y1="219" x2="125.4" y2="302" stroke="#c4c4c4" stroke-width="0.7"/>
<text x="52.5" y="214" font-size="6" text-anchor="start" font-weight="normal" font-style="normal" fill="#2a2a2a">Oligomycin</text>
<text x="91" y="214" font-size="6" text-anchor="start" font-weight="normal" font-style="normal" fill="#2a2a2a">FCCP</text>
<text x="113.8" y="207.6" font-size="6" text-anchor="start" font-weight="normal" font-style="normal" fill="#2a2a2a">Rotenone/</text>
<text x="113.8" y="215.2" font-size="6" text-anchor="start" font-weight="normal" font-style="normal" fill="#2a2a2a">antimycin A</text>
<line x1="42.5" y1="302" x2="42.5" y2="305" stroke="#2a2a2a" stroke-width="1"/>
<text x="42.5" y="313.5" font-size="6.1" text-anchor="middle" font-weight="normal" font-style="normal" fill="#2a2a2a">0</text>
<line x1="97.5" y1="302" x2="97.5" y2="305" stroke="#2a2a2a" stroke-width="1"/>
<text x="97.5" y="313.5" font-size="6.1" text-anchor="middle" font-weight="normal" font-style="normal" fill="#2a2a2a">50</text>
<line x1="152.5" y1="302" x2="152.5" y2="305" stroke="#2a2a2a" stroke-width="1"/>
<text x="152.5" y="313.5" font-size="6.1" text-anchor="middle" font-weight="normal" font-style="normal" fill="#2a2a2a">100</text>
<text class="t" x="103.05" y="324.8" font-size="7.6" text-anchor="middle" fill="#2a2a2a" textLength="27.9" lengthAdjust="spacingAndGlyphs">Time (min)</text>
<text class="t" x="16" y="257.3" font-size="6.2" text-anchor="middle" fill="#2a2a2a" transform="rotate(-90 16 257.3)" textLength="39.5" lengthAdjust="spacingAndGlyphs">OCR (pmol/min)</text>
<line x1="43.9" y1="270.58" x2="43.9" y2="279.13" stroke="#3a3a3a" stroke-width="0.75"/>
<line x1="42.4" y1="270.58" x2="45.4" y2="270.58" stroke="#3a3a3a" stroke-width="0.75"/>
<line x1="42.4" y1="279.13" x2="45.4" y2="279.13" stroke="#3a3a3a" stroke-width="0.75"/>
<line x1="53.7" y1="271.65" x2="53.7" y2="278.06" stroke="#3a3a3a" stroke-width="0.75"/>
<line x1="52.2" y1="271.65" x2="55.2" y2="271.65" stroke="#3a3a3a" stroke-width="0.75"/>
<line x1="52.2" y1="278.06" x2="55.2" y2="278.06" stroke="#3a3a3a" stroke-width="0.75"/>
<line x1="63.5" y1="271.65" x2="63.5" y2="278.06" stroke="#3a3a3a" stroke-width="0.75"/>
<line x1="62" y1="271.65" x2="65" y2="271.65" stroke="#3a3a3a" stroke-width="0.75"/>
<line x1="62" y1="278.06" x2="65" y2="278.06" stroke="#3a3a3a" stroke-width="0.75"/>
<line x1="73.8" y1="287.39" x2="73.8" y2="289.53" stroke="#3a3a3a" stroke-width="0.75"/>
<line x1="72.3" y1="287.39" x2="75.3" y2="287.39" stroke="#3a3a3a" stroke-width="0.75"/>
<line x1="72.3" y1="289.53" x2="75.3" y2="289.53" stroke="#3a3a3a" stroke-width="0.75"/>
<line x1="82.7" y1="285.4" x2="82.7" y2="287.54" stroke="#3a3a3a" stroke-width="0.75"/>
<line x1="81.2" y1="285.4" x2="84.2" y2="285.4" stroke="#3a3a3a" stroke-width="0.75"/>
<line x1="81.2" y1="287.54" x2="84.2" y2="287.54" stroke="#3a3a3a" stroke-width="0.75"/>
<line x1="92.3" y1="285.4" x2="92.3" y2="287.54" stroke="#3a3a3a" stroke-width="0.75"/>
<line x1="90.8" y1="285.4" x2="93.8" y2="285.4" stroke="#3a3a3a" stroke-width="0.75"/>
<line x1="90.8" y1="287.54" x2="93.8" y2="287.54" stroke="#3a3a3a" stroke-width="0.75"/>
<line x1="102.3" y1="233.6" x2="102.3" y2="257.82" stroke="#3a3a3a" stroke-width="0.75"/>
<line x1="100.8" y1="233.6" x2="103.8" y2="233.6" stroke="#3a3a3a" stroke-width="0.75"/>
<line x1="100.8" y1="257.82" x2="103.8" y2="257.82" stroke="#3a3a3a" stroke-width="0.75"/>
<line x1="111.9" y1="243.29" x2="111.9" y2="261.81" stroke="#3a3a3a" stroke-width="0.75"/>
<line x1="110.4" y1="243.29" x2="113.4" y2="243.29" stroke="#3a3a3a" stroke-width="0.75"/>
<line x1="110.4" y1="261.81" x2="113.4" y2="261.81" stroke="#3a3a3a" stroke-width="0.75"/>
<line x1="121.2" y1="251.91" x2="121.2" y2="260.46" stroke="#3a3a3a" stroke-width="0.75"/>
<line x1="119.7" y1="251.91" x2="122.7" y2="251.91" stroke="#3a3a3a" stroke-width="0.75"/>
<line x1="119.7" y1="260.46" x2="122.7" y2="260.46" stroke="#3a3a3a" stroke-width="0.75"/>
<line x1="130.8" y1="295.94" x2="130.8" y2="296.66" stroke="#3a3a3a" stroke-width="0.75"/>
<line x1="129.3" y1="295.94" x2="132.3" y2="295.94" stroke="#3a3a3a" stroke-width="0.75"/>
<line x1="129.3" y1="296.66" x2="132.3" y2="296.66" stroke="#3a3a3a" stroke-width="0.75"/>
<line x1="140.7" y1="295.94" x2="140.7" y2="296.66" stroke="#3a3a3a" stroke-width="0.75"/>
<line x1="139.2" y1="295.94" x2="142.2" y2="295.94" stroke="#3a3a3a" stroke-width="0.75"/>
<line x1="139.2" y1="296.66" x2="142.2" y2="296.66" stroke="#3a3a3a" stroke-width="0.75"/>
<line x1="150" y1="295.94" x2="150" y2="296.66" stroke="#3a3a3a" stroke-width="0.75"/>
<line x1="148.5" y1="295.94" x2="151.5" y2="295.94" stroke="#3a3a3a" stroke-width="0.75"/>
<line x1="148.5" y1="296.66" x2="151.5" y2="296.66" stroke="#3a3a3a" stroke-width="0.75"/>
<polyline points="43.9,274.85 53.7,274.85 63.5,274.85 73.8,288.46 82.7,286.47 92.3,286.47 102.3,245.71 111.9,252.55 121.2,256.19 130.8,296.3 140.7,296.3 150,296.3" fill="none" stroke="#1b4679" stroke-width="1.15" stroke-linejoin="round"/>
<line x1="43.9" y1="274.21" x2="43.9" y2="278.49" stroke="#3a3a3a" stroke-width="0.75"/>
<line x1="42.4" y1="274.21" x2="45.4" y2="274.21" stroke="#3a3a3a" stroke-width="0.75"/>
<line x1="42.4" y1="278.49" x2="45.4" y2="278.49" stroke="#3a3a3a" stroke-width="0.75"/>
<line x1="53.7" y1="274.21" x2="53.7" y2="278.49" stroke="#3a3a3a" stroke-width="0.75"/>
<line x1="52.2" y1="274.21" x2="55.2" y2="274.21" stroke="#3a3a3a" stroke-width="0.75"/>
<line x1="52.2" y1="278.49" x2="55.2" y2="278.49" stroke="#3a3a3a" stroke-width="0.75"/>
<line x1="63.5" y1="274.21" x2="63.5" y2="278.49" stroke="#3a3a3a" stroke-width="0.75"/>
<line x1="62" y1="274.21" x2="65" y2="274.21" stroke="#3a3a3a" stroke-width="0.75"/>
<line x1="62" y1="278.49" x2="65" y2="278.49" stroke="#3a3a3a" stroke-width="0.75"/>
<line x1="73.8" y1="288.82" x2="73.8" y2="290.96" stroke="#3a3a3a" stroke-width="0.75"/>
<line x1="72.3" y1="288.82" x2="75.3" y2="288.82" stroke="#3a3a3a" stroke-width="0.75"/>
<line x1="72.3" y1="290.96" x2="75.3" y2="290.96" stroke="#3a3a3a" stroke-width="0.75"/>
<line x1="82.7" y1="287.04" x2="82.7" y2="289.18" stroke="#3a3a3a" stroke-width="0.75"/>
<line x1="81.2" y1="287.04" x2="84.2" y2="287.04" stroke="#3a3a3a" stroke-width="0.75"/>
<line x1="81.2" y1="289.18" x2="84.2" y2="289.18" stroke="#3a3a3a" stroke-width="0.75"/>
<line x1="92.3" y1="286.32" x2="92.3" y2="288.46" stroke="#3a3a3a" stroke-width="0.75"/>
<line x1="90.8" y1="286.32" x2="93.8" y2="286.32" stroke="#3a3a3a" stroke-width="0.75"/>
<line x1="90.8" y1="288.46" x2="93.8" y2="288.46" stroke="#3a3a3a" stroke-width="0.75"/>
<line x1="102.3" y1="257.9" x2="102.3" y2="266.45" stroke="#3a3a3a" stroke-width="0.75"/>
<line x1="100.8" y1="257.9" x2="103.8" y2="257.9" stroke="#3a3a3a" stroke-width="0.75"/>
<line x1="100.8" y1="266.45" x2="103.8" y2="266.45" stroke="#3a3a3a" stroke-width="0.75"/>
<line x1="111.9" y1="262.24" x2="111.9" y2="270.79" stroke="#3a3a3a" stroke-width="0.75"/>
<line x1="110.4" y1="262.24" x2="113.4" y2="262.24" stroke="#3a3a3a" stroke-width="0.75"/>
<line x1="110.4" y1="270.79" x2="113.4" y2="270.79" stroke="#3a3a3a" stroke-width="0.75"/>
<line x1="121.2" y1="265.24" x2="121.2" y2="273.79" stroke="#3a3a3a" stroke-width="0.75"/>
<line x1="119.7" y1="265.24" x2="122.7" y2="265.24" stroke="#3a3a3a" stroke-width="0.75"/>
<line x1="119.7" y1="273.79" x2="122.7" y2="273.79" stroke="#3a3a3a" stroke-width="0.75"/>
<line x1="130.8" y1="295.94" x2="130.8" y2="296.66" stroke="#3a3a3a" stroke-width="0.75"/>
<line x1="129.3" y1="295.94" x2="132.3" y2="295.94" stroke="#3a3a3a" stroke-width="0.75"/>
<line x1="129.3" y1="296.66" x2="132.3" y2="296.66" stroke="#3a3a3a" stroke-width="0.75"/>
<line x1="140.7" y1="295.94" x2="140.7" y2="296.66" stroke="#3a3a3a" stroke-width="0.75"/>
<line x1="139.2" y1="295.94" x2="142.2" y2="295.94" stroke="#3a3a3a" stroke-width="0.75"/>
<line x1="139.2" y1="296.66" x2="142.2" y2="296.66" stroke="#3a3a3a" stroke-width="0.75"/>
<line x1="150" y1="295.94" x2="150" y2="296.66" stroke="#3a3a3a" stroke-width="0.75"/>
<line x1="148.5" y1="295.94" x2="151.5" y2="295.94" stroke="#3a3a3a" stroke-width="0.75"/>
<line x1="148.5" y1="296.66" x2="151.5" y2="296.66" stroke="#3a3a3a" stroke-width="0.75"/>
<polyline points="43.9,276.35 53.7,276.35 63.5,276.35 73.8,289.89 82.7,288.11 92.3,287.39 102.3,262.17 111.9,266.52 121.2,269.51 130.8,296.3 140.7,296.3 150,296.3" fill="none" stroke="#1b4679" stroke-width="1.15" stroke-linejoin="round"/>
<line x1="43.9" y1="275.35" x2="43.9" y2="279.63" stroke="#3a3a3a" stroke-width="0.75"/>
<line x1="42.4" y1="275.35" x2="45.4" y2="275.35" stroke="#3a3a3a" stroke-width="0.75"/>
<line x1="42.4" y1="279.63" x2="45.4" y2="279.63" stroke="#3a3a3a" stroke-width="0.75"/>
<line x1="53.7" y1="275.35" x2="53.7" y2="279.63" stroke="#3a3a3a" stroke-width="0.75"/>
<line x1="52.2" y1="275.35" x2="55.2" y2="275.35" stroke="#3a3a3a" stroke-width="0.75"/>
<line x1="52.2" y1="279.63" x2="55.2" y2="279.63" stroke="#3a3a3a" stroke-width="0.75"/>
<line x1="63.5" y1="275.35" x2="63.5" y2="279.63" stroke="#3a3a3a" stroke-width="0.75"/>
<line x1="62" y1="275.35" x2="65" y2="275.35" stroke="#3a3a3a" stroke-width="0.75"/>
<line x1="62" y1="279.63" x2="65" y2="279.63" stroke="#3a3a3a" stroke-width="0.75"/>
<line x1="73.8" y1="288.89" x2="73.8" y2="291.03" stroke="#3a3a3a" stroke-width="0.75"/>
<line x1="72.3" y1="288.89" x2="75.3" y2="288.89" stroke="#3a3a3a" stroke-width="0.75"/>
<line x1="72.3" y1="291.03" x2="75.3" y2="291.03" stroke="#3a3a3a" stroke-width="0.75"/>
<line x1="82.7" y1="288.11" x2="82.7" y2="290.24" stroke="#3a3a3a" stroke-width="0.75"/>
<line x1="81.2" y1="288.11" x2="84.2" y2="288.11" stroke="#3a3a3a" stroke-width="0.75"/>
<line x1="81.2" y1="290.24" x2="84.2" y2="290.24" stroke="#3a3a3a" stroke-width="0.75"/>
<line x1="92.3" y1="287.39" x2="92.3" y2="289.53" stroke="#3a3a3a" stroke-width="0.75"/>
<line x1="90.8" y1="287.39" x2="93.8" y2="287.39" stroke="#3a3a3a" stroke-width="0.75"/>
<line x1="90.8" y1="289.53" x2="93.8" y2="289.53" stroke="#3a3a3a" stroke-width="0.75"/>
<line x1="102.3" y1="250.2" x2="102.3" y2="278.7" stroke="#3a3a3a" stroke-width="0.75"/>
<line x1="100.8" y1="250.2" x2="103.8" y2="250.2" stroke="#3a3a3a" stroke-width="0.75"/>
<line x1="100.8" y1="278.7" x2="103.8" y2="278.7" stroke="#3a3a3a" stroke-width="0.75"/>
<line x1="111.9" y1="258.39" x2="111.9" y2="275.5" stroke="#3a3a3a" stroke-width="0.75"/>
<line x1="110.4" y1="258.39" x2="113.4" y2="258.39" stroke="#3a3a3a" stroke-width="0.75"/>
<line x1="110.4" y1="275.5" x2="113.4" y2="275.5" stroke="#3a3a3a" stroke-width="0.75"/>
<line x1="121.2" y1="258.75" x2="121.2" y2="270.15" stroke="#3a3a3a" stroke-width="0.75"/>
<line x1="119.7" y1="258.75" x2="122.7" y2="258.75" stroke="#3a3a3a" stroke-width="0.75"/>
<line x1="119.7" y1="270.15" x2="122.7" y2="270.15" stroke="#3a3a3a" stroke-width="0.75"/>
<line x1="130.8" y1="295.94" x2="130.8" y2="296.66" stroke="#3a3a3a" stroke-width="0.75"/>
<line x1="129.3" y1="295.94" x2="132.3" y2="295.94" stroke="#3a3a3a" stroke-width="0.75"/>
<line x1="129.3" y1="296.66" x2="132.3" y2="296.66" stroke="#3a3a3a" stroke-width="0.75"/>
<line x1="140.7" y1="295.94" x2="140.7" y2="296.66" stroke="#3a3a3a" stroke-width="0.75"/>
<line x1="139.2" y1="295.94" x2="142.2" y2="295.94" stroke="#3a3a3a" stroke-width="0.75"/>
<line x1="139.2" y1="296.66" x2="142.2" y2="296.66" stroke="#3a3a3a" stroke-width="0.75"/>
<line x1="150" y1="295.94" x2="150" y2="296.66" stroke="#3a3a3a" stroke-width="0.75"/>
<line x1="148.5" y1="295.94" x2="151.5" y2="295.94" stroke="#3a3a3a" stroke-width="0.75"/>
<line x1="148.5" y1="296.66" x2="151.5" y2="296.66" stroke="#3a3a3a" stroke-width="0.75"/>
<polyline points="43.9,277.49 53.7,277.49 63.5,277.49 73.8,289.96 82.7,289.18 92.3,288.46 102.3,264.45 111.9,266.94 121.2,264.45 130.8,296.3 140.7,296.3 150,296.3" fill="none" stroke="#F39200" stroke-width="1.15" stroke-linejoin="round"/>
<line x1="43.9" y1="278.99" x2="43.9" y2="283.26" stroke="#3a3a3a" stroke-width="0.75"/>
<line x1="42.4" y1="278.99" x2="45.4" y2="278.99" stroke="#3a3a3a" stroke-width="0.75"/>
<line x1="42.4" y1="283.26" x2="45.4" y2="283.26" stroke="#3a3a3a" stroke-width="0.75"/>
<line x1="53.7" y1="278.99" x2="53.7" y2="283.26" stroke="#3a3a3a" stroke-width="0.75"/>
<line x1="52.2" y1="278.99" x2="55.2" y2="278.99" stroke="#3a3a3a" stroke-width="0.75"/>
<line x1="52.2" y1="283.26" x2="55.2" y2="283.26" stroke="#3a3a3a" stroke-width="0.75"/>
<line x1="63.5" y1="278.99" x2="63.5" y2="283.26" stroke="#3a3a3a" stroke-width="0.75"/>
<line x1="62" y1="278.99" x2="65" y2="278.99" stroke="#3a3a3a" stroke-width="0.75"/>
<line x1="62" y1="283.26" x2="65" y2="283.26" stroke="#3a3a3a" stroke-width="0.75"/>
<line x1="73.8" y1="290.81" x2="73.8" y2="292.95" stroke="#3a3a3a" stroke-width="0.75"/>
<line x1="72.3" y1="290.81" x2="75.3" y2="290.81" stroke="#3a3a3a" stroke-width="0.75"/>
<line x1="72.3" y1="292.95" x2="75.3" y2="292.95" stroke="#3a3a3a" stroke-width="0.75"/>
<line x1="82.7" y1="289.89" x2="82.7" y2="292.02" stroke="#3a3a3a" stroke-width="0.75"/>
<line x1="81.2" y1="289.89" x2="84.2" y2="289.89" stroke="#3a3a3a" stroke-width="0.75"/>
<line x1="81.2" y1="292.02" x2="84.2" y2="292.02" stroke="#3a3a3a" stroke-width="0.75"/>
<line x1="92.3" y1="289.89" x2="92.3" y2="292.02" stroke="#3a3a3a" stroke-width="0.75"/>
<line x1="90.8" y1="289.89" x2="93.8" y2="289.89" stroke="#3a3a3a" stroke-width="0.75"/>
<line x1="90.8" y1="292.02" x2="93.8" y2="292.02" stroke="#3a3a3a" stroke-width="0.75"/>
<line x1="102.3" y1="269.23" x2="102.3" y2="277.77" stroke="#3a3a3a" stroke-width="0.75"/>
<line x1="100.8" y1="269.23" x2="103.8" y2="269.23" stroke="#3a3a3a" stroke-width="0.75"/>
<line x1="100.8" y1="277.77" x2="103.8" y2="277.77" stroke="#3a3a3a" stroke-width="0.75"/>
<line x1="111.9" y1="271.29" x2="111.9" y2="279.84" stroke="#3a3a3a" stroke-width="0.75"/>
<line x1="110.4" y1="271.29" x2="113.4" y2="271.29" stroke="#3a3a3a" stroke-width="0.75"/>
<line x1="110.4" y1="279.84" x2="113.4" y2="279.84" stroke="#3a3a3a" stroke-width="0.75"/>
<line x1="121.2" y1="270.65" x2="121.2" y2="279.2" stroke="#3a3a3a" stroke-width="0.75"/>
<line x1="119.7" y1="270.65" x2="122.7" y2="270.65" stroke="#3a3a3a" stroke-width="0.75"/>
<line x1="119.7" y1="279.2" x2="122.7" y2="279.2" stroke="#3a3a3a" stroke-width="0.75"/>
<line x1="130.8" y1="295.66" x2="130.8" y2="296.37" stroke="#3a3a3a" stroke-width="0.75"/>
<line x1="129.3" y1="295.66" x2="132.3" y2="295.66" stroke="#3a3a3a" stroke-width="0.75"/>
<line x1="129.3" y1="296.37" x2="132.3" y2="296.37" stroke="#3a3a3a" stroke-width="0.75"/>
<line x1="140.7" y1="295.66" x2="140.7" y2="296.37" stroke="#3a3a3a" stroke-width="0.75"/>
<line x1="139.2" y1="295.66" x2="142.2" y2="295.66" stroke="#3a3a3a" stroke-width="0.75"/>
<line x1="139.2" y1="296.37" x2="142.2" y2="296.37" stroke="#3a3a3a" stroke-width="0.75"/>
<line x1="150" y1="295.66" x2="150" y2="296.37" stroke="#3a3a3a" stroke-width="0.75"/>
<line x1="148.5" y1="295.66" x2="151.5" y2="295.66" stroke="#3a3a3a" stroke-width="0.75"/>
<line x1="148.5" y1="296.37" x2="151.5" y2="296.37" stroke="#3a3a3a" stroke-width="0.75"/>
<polyline points="43.9,281.12 53.7,281.12 63.5,281.12 73.8,291.88 82.7,290.96 92.3,290.96 102.3,273.5 111.9,275.57 121.2,274.93 130.8,296.01 140.7,296.01 150,296.01" fill="none" stroke="#F39200" stroke-width="1.15" stroke-linejoin="round"/>
<circle cx="43.9" cy="274.85" r="1.65" fill="#1b4679" stroke="#1b4679" stroke-width="0.8"/>
<circle cx="53.7" cy="274.85" r="1.65" fill="#1b4679" stroke="#1b4679" stroke-width="0.8"/>
<circle cx="63.5" cy="274.85" r="1.65" fill="#1b4679" stroke="#1b4679" stroke-width="0.8"/>
<circle cx="73.8" cy="288.46" r="1.65" fill="#1b4679" stroke="#1b4679" stroke-width="0.8"/>
<circle cx="82.7" cy="286.47" r="1.65" fill="#1b4679" stroke="#1b4679" stroke-width="0.8"/>
<circle cx="92.3" cy="286.47" r="1.65" fill="#1b4679" stroke="#1b4679" stroke-width="0.8"/>
<circle cx="102.3" cy="245.71" r="1.65" fill="#1b4679" stroke="#1b4679" stroke-width="0.8"/>
<circle cx="111.9" cy="252.55" r="1.65" fill="#1b4679" stroke="#1b4679" stroke-width="0.8"/>
<circle cx="121.2" cy="256.19" r="1.65" fill="#1b4679" stroke="#1b4679" stroke-width="0.8"/>
<circle cx="130.8" cy="296.3" r="1.65" fill="#1b4679" stroke="#1b4679" stroke-width="0.8"/>
<circle cx="140.7" cy="296.3" r="1.65" fill="#1b4679" stroke="#1b4679" stroke-width="0.8"/>
<circle cx="150" cy="296.3" r="1.65" fill="#1b4679" stroke="#1b4679" stroke-width="0.8"/>
<circle cx="43.9" cy="276.35" r="1.95" fill="#fff" stroke="#1b4679" stroke-width="1.15"/>
<circle cx="53.7" cy="276.35" r="1.95" fill="#fff" stroke="#1b4679" stroke-width="1.15"/>
<circle cx="63.5" cy="276.35" r="1.95" fill="#fff" stroke="#1b4679" stroke-width="1.15"/>
<circle cx="73.8" cy="289.89" r="1.95" fill="#fff" stroke="#1b4679" stroke-width="1.15"/>
<circle cx="82.7" cy="288.11" r="1.95" fill="#fff" stroke="#1b4679" stroke-width="1.15"/>
<circle cx="92.3" cy="287.39" r="1.95" fill="#fff" stroke="#1b4679" stroke-width="1.15"/>
<circle cx="102.3" cy="262.17" r="1.95" fill="#fff" stroke="#1b4679" stroke-width="1.15"/>
<circle cx="111.9" cy="266.52" r="1.95" fill="#fff" stroke="#1b4679" stroke-width="1.15"/>
<circle cx="121.2" cy="269.51" r="1.95" fill="#fff" stroke="#1b4679" stroke-width="1.15"/>
<circle cx="130.8" cy="296.3" r="1.95" fill="#fff" stroke="#1b4679" stroke-width="1.15"/>
<circle cx="140.7" cy="296.3" r="1.95" fill="#fff" stroke="#1b4679" stroke-width="1.15"/>
<circle cx="150" cy="296.3" r="1.95" fill="#fff" stroke="#1b4679" stroke-width="1.15"/>
<circle cx="43.9" cy="277.49" r="1.65" fill="#F39200" stroke="#F39200" stroke-width="0.8"/>
<circle cx="53.7" cy="277.49" r="1.65" fill="#F39200" stroke="#F39200" stroke-width="0.8"/>
<circle cx="63.5" cy="277.49" r="1.65" fill="#F39200" stroke="#F39200" stroke-width="0.8"/>
<circle cx="73.8" cy="289.96" r="1.65" fill="#F39200" stroke="#F39200" stroke-width="0.8"/>
<circle cx="82.7" cy="289.18" r="1.65" fill="#F39200" stroke="#F39200" stroke-width="0.8"/>
<circle cx="92.3" cy="288.46" r="1.65" fill="#F39200" stroke="#F39200" stroke-width="0.8"/>
<circle cx="102.3" cy="264.45" r="1.65" fill="#F39200" stroke="#F39200" stroke-width="0.8"/>
<circle cx="111.9" cy="266.94" r="1.65" fill="#F39200" stroke="#F39200" stroke-width="0.8"/>
<circle cx="121.2" cy="264.45" r="1.65" fill="#F39200" stroke="#F39200" stroke-width="0.8"/>
<circle cx="130.8" cy="296.3" r="1.65" fill="#F39200" stroke="#F39200" stroke-width="0.8"/>
<circle cx="140.7" cy="296.3" r="1.65" fill="#F39200" stroke="#F39200" stroke-width="0.8"/>
<circle cx="150" cy="296.3" r="1.65" fill="#F39200" stroke="#F39200" stroke-width="0.8"/>
<circle cx="43.9" cy="281.12" r="1.95" fill="#fff" stroke="#F39200" stroke-width="1.15"/>
<circle cx="53.7" cy="281.12" r="1.95" fill="#fff" stroke="#F39200" stroke-width="1.15"/>
<circle cx="63.5" cy="281.12" r="1.95" fill="#fff" stroke="#F39200" stroke-width="1.15"/>
<circle cx="73.8" cy="291.88" r="1.95" fill="#fff" stroke="#F39200" stroke-width="1.15"/>
<circle cx="82.7" cy="290.96" r="1.95" fill="#fff" stroke="#F39200" stroke-width="1.15"/>
<circle cx="92.3" cy="290.96" r="1.95" fill="#fff" stroke="#F39200" stroke-width="1.15"/>
<circle cx="102.3" cy="273.5" r="1.95" fill="#fff" stroke="#F39200" stroke-width="1.15"/>
<circle cx="111.9" cy="275.57" r="1.95" fill="#fff" stroke="#F39200" stroke-width="1.15"/>
<circle cx="121.2" cy="274.93" r="1.95" fill="#fff" stroke="#F39200" stroke-width="1.15"/>
<circle cx="130.8" cy="296.01" r="1.95" fill="#fff" stroke="#F39200" stroke-width="1.15"/>
<circle cx="140.7" cy="296.01" r="1.95" fill="#fff" stroke="#F39200" stroke-width="1.15"/>
<circle cx="150" cy="296.01" r="1.95" fill="#fff" stroke="#F39200" stroke-width="1.15"/>
<text x="229" y="193" font-size="7.8" text-anchor="middle" font-weight="normal" font-style="normal" fill="#2a2a2a">Maximal</text>
<text x="229" y="203" font-size="7.8" text-anchor="middle" font-weight="normal" font-style="normal" fill="#2a2a2a">Respiration</text>
<line x1="206.35" y1="213.6" x2="206.35" y2="302.5" stroke="#2a2a2a" stroke-width="1"/>
<line x1="203.35" y1="302" x2="206.35" y2="302" stroke="#2a2a2a" stroke-width="1"/>
<text x="199.35" y="304.2" font-size="6.1" text-anchor="end" font-weight="normal" font-style="normal" fill="#2a2a2a" class="k">0</text>
<line x1="203.35" y1="280.57" x2="206.35" y2="280.57" stroke="#2a2a2a" stroke-width="1"/>
<text x="199.35" y="282.77" font-size="6.1" text-anchor="end" font-weight="normal" font-style="normal" fill="#2a2a2a" class="k">250</text>
<line x1="203.35" y1="259.15" x2="206.35" y2="259.15" stroke="#2a2a2a" stroke-width="1"/>
<text x="199.35" y="261.35" font-size="6.1" text-anchor="end" font-weight="normal" font-style="normal" fill="#2a2a2a" class="k">500</text>
<line x1="203.35" y1="237.73" x2="206.35" y2="237.73" stroke="#2a2a2a" stroke-width="1"/>
<text x="199.35" y="239.93" font-size="6.1" text-anchor="end" font-weight="normal" font-style="normal" fill="#2a2a2a" class="k">750</text>
<line x1="203.35" y1="216.3" x2="206.35" y2="216.3" stroke="#2a2a2a" stroke-width="1"/>
<text x="199.35" y="218.5" font-size="6.1" text-anchor="end" font-weight="normal" font-style="normal" fill="#2a2a2a" class="k">1000</text>
<line x1="206.35" y1="302" x2="251" y2="302" stroke="#2a2a2a" stroke-width="1"/>
<text class="t" x="181.4" y="257.6" font-size="6.2" text-anchor="middle" fill="#2a2a2a" transform="rotate(-90 181.4 257.6)" textLength="39.5" lengthAdjust="spacingAndGlyphs">OCR (pmol/min)</text>
<rect x="208.8" y="240.72" width="7.6" height="61.28" fill="#155090"/>
<rect x="219.8" y="260.86" width="7.6" height="41.14" fill="#155090"/>
<rect x="230.6" y="264.29" width="7.6" height="37.71" fill="#F39200"/>
<rect x="241.4" y="274.58" width="7.6" height="27.42" fill="#F39200"/>
<line x1="212.6" y1="226.33" x2="212.6" y2="255.12" stroke="#333" stroke-width="0.8"/>
<line x1="211.1" y1="226.33" x2="214.1" y2="226.33" stroke="#333" stroke-width="0.8"/>
<line x1="211.1" y1="255.12" x2="214.1" y2="255.12" stroke="#333" stroke-width="0.8"/>
<line x1="223.6" y1="257.52" x2="223.6" y2="264.21" stroke="#333" stroke-width="0.8"/>
<line x1="222.1" y1="257.52" x2="225.1" y2="257.52" stroke="#333" stroke-width="0.8"/>
<line x1="222.1" y1="264.21" x2="225.1" y2="264.21" stroke="#333" stroke-width="0.8"/>
<line x1="234.4" y1="247.15" x2="234.4" y2="281.43" stroke="#333" stroke-width="0.8"/>
<line x1="232.9" y1="247.15" x2="235.9" y2="247.15" stroke="#333" stroke-width="0.8"/>
<line x1="232.9" y1="281.43" x2="235.9" y2="281.43" stroke="#333" stroke-width="0.8"/>
<line x1="245.2" y1="266.01" x2="245.2" y2="283.15" stroke="#333" stroke-width="0.8"/>
<line x1="243.7" y1="266.01" x2="246.7" y2="266.01" stroke="#333" stroke-width="0.8"/>
<line x1="243.7" y1="283.15" x2="246.7" y2="283.15" stroke="#333" stroke-width="0.8"/>
<line x1="212.5" y1="302" x2="212.5" y2="305" stroke="#2a2a2a" stroke-width="1"/>
<line x1="223.5" y1="302" x2="223.5" y2="305" stroke="#2a2a2a" stroke-width="1"/>
<line x1="234.5" y1="302" x2="234.5" y2="305" stroke="#2a2a2a" stroke-width="1"/>
<line x1="245.5" y1="302" x2="245.5" y2="305" stroke="#2a2a2a" stroke-width="1"/>
<text x="214.1" y="311.8" font-size="6.2" fill="#2a2a2a" text-anchor="end" transform="rotate(-45 214.1 311.8)">Control</text>
<text x="225.1" y="311.8" font-size="6.2" fill="#2a2a2a" text-anchor="end" transform="rotate(-45 225.1 311.8)">VEN/DEC</text>
<text x="235.9" y="311.8" font-size="6.2" fill="#2a2a2a" text-anchor="end" transform="rotate(-45 235.9 311.8)">Control</text>
<text x="246.7" y="311.8" font-size="6.2" fill="#2a2a2a" text-anchor="end" transform="rotate(-45 246.7 311.8)">VEN/DEC</text>
<text x="318" y="193" font-size="7.8" text-anchor="middle" font-weight="normal" font-style="normal" fill="#2a2a2a">Spare Respiratory</text>
<text x="318" y="203" font-size="7.8" text-anchor="middle" font-weight="normal" font-style="normal" fill="#2a2a2a">Capacity (%)</text>
<line x1="295" y1="213.8" x2="295" y2="302.5" stroke="#2a2a2a" stroke-width="1"/>
<line x1="292" y1="302" x2="295" y2="302" stroke="#2a2a2a" stroke-width="1"/>
<text x="288" y="304.2" font-size="6.1" text-anchor="end" font-weight="normal" font-style="normal" fill="#2a2a2a" class="k">0</text>
<line x1="292" y1="280.62" x2="295" y2="280.62" stroke="#2a2a2a" stroke-width="1"/>
<text x="288" y="282.82" font-size="6.1" text-anchor="end" font-weight="normal" font-style="normal" fill="#2a2a2a" class="k">100</text>
<line x1="292" y1="259.25" x2="295" y2="259.25" stroke="#2a2a2a" stroke-width="1"/>
<text x="288" y="261.45" font-size="6.1" text-anchor="end" font-weight="normal" font-style="normal" fill="#2a2a2a" class="k">200</text>
<line x1="292" y1="237.88" x2="295" y2="237.88" stroke="#2a2a2a" stroke-width="1"/>
<text x="288" y="240.07" font-size="6.1" text-anchor="end" font-weight="normal" font-style="normal" fill="#2a2a2a" class="k">300</text>
<line x1="292" y1="216.5" x2="295" y2="216.5" stroke="#2a2a2a" stroke-width="1"/>
<text x="288" y="218.7" font-size="6.1" text-anchor="end" font-weight="normal" font-style="normal" fill="#2a2a2a" class="k">400</text>
<line x1="295" y1="302" x2="340.2" y2="302" stroke="#2a2a2a" stroke-width="1"/>
<text class="t" x="272.6" y="257.8" font-size="7" text-anchor="middle" fill="#2a2a2a" transform="rotate(-90 272.6 257.8)" textLength="22" lengthAdjust="spacingAndGlyphs">SRC (%)</text>
<rect x="297.5" y="250.06" width="7.6" height="51.94" fill="#155090"/>
<rect x="308.2" y="268.23" width="7.6" height="33.77" fill="#155090"/>
<rect x="319.2" y="268.23" width="7.6" height="33.77" fill="#F39200"/>
<rect x="330.2" y="271.43" width="7.6" height="30.57" fill="#F39200"/>
<line x1="301.3" y1="231.89" x2="301.3" y2="268.23" stroke="#333" stroke-width="0.8"/>
<line x1="299.8" y1="231.89" x2="302.8" y2="231.89" stroke="#333" stroke-width="0.8"/>
<line x1="299.8" y1="268.23" x2="302.8" y2="268.23" stroke="#333" stroke-width="0.8"/>
<line x1="312" y1="266.3" x2="312" y2="270.15" stroke="#333" stroke-width="0.8"/>
<line x1="310.5" y1="266.3" x2="313.5" y2="266.3" stroke="#333" stroke-width="0.8"/>
<line x1="310.5" y1="270.15" x2="313.5" y2="270.15" stroke="#333" stroke-width="0.8"/>
<line x1="323" y1="253.26" x2="323" y2="283.19" stroke="#333" stroke-width="0.8"/>
<line x1="321.5" y1="253.26" x2="324.5" y2="253.26" stroke="#333" stroke-width="0.8"/>
<line x1="321.5" y1="283.19" x2="324.5" y2="283.19" stroke="#333" stroke-width="0.8"/>
<line x1="334" y1="262.88" x2="334" y2="279.98" stroke="#333" stroke-width="0.8"/>
<line x1="332.5" y1="262.88" x2="335.5" y2="262.88" stroke="#333" stroke-width="0.8"/>
<line x1="332.5" y1="279.98" x2="335.5" y2="279.98" stroke="#333" stroke-width="0.8"/>
<line x1="301.5" y1="302" x2="301.5" y2="305" stroke="#2a2a2a" stroke-width="1"/>
<line x1="312.5" y1="302" x2="312.5" y2="305" stroke="#2a2a2a" stroke-width="1"/>
<line x1="323.5" y1="302" x2="323.5" y2="305" stroke="#2a2a2a" stroke-width="1"/>
<line x1="334.5" y1="302" x2="334.5" y2="305" stroke="#2a2a2a" stroke-width="1"/>
<text x="302.8" y="311.8" font-size="6.2" fill="#2a2a2a" text-anchor="end" transform="rotate(-45 302.8 311.8)">Control</text>
<text x="313.5" y="311.8" font-size="6.2" fill="#2a2a2a" text-anchor="end" transform="rotate(-45 313.5 311.8)">VEN/DEC</text>
<text x="324.5" y="311.8" font-size="6.2" fill="#2a2a2a" text-anchor="end" transform="rotate(-45 324.5 311.8)">Control</text>
<text x="335.5" y="311.8" font-size="6.2" fill="#2a2a2a" text-anchor="end" transform="rotate(-45 335.5 311.8)">VEN/DEC</text>
<text x="102.5" y="366.3" font-size="8.4" text-anchor="middle" font-weight="normal" font-style="normal" fill="#2a2a2a">HL60</text>
<line x1="42.5" y1="382.6" x2="42.5" y2="472.9" stroke="#2a2a2a" stroke-width="1"/>
<line x1="39.5" y1="472.4" x2="42.5" y2="472.4" stroke="#2a2a2a" stroke-width="1"/>
<text x="35.5" y="474.6" font-size="6.1" text-anchor="end" font-weight="normal" font-style="normal" fill="#2a2a2a" class="k">0</text>
<line x1="39.5" y1="457.88" x2="42.5" y2="457.88" stroke="#2a2a2a" stroke-width="1"/>
<text x="35.5" y="460.08" font-size="6.1" text-anchor="end" font-weight="normal" font-style="normal" fill="#2a2a2a" class="k">50</text>
<line x1="39.5" y1="443.37" x2="42.5" y2="443.37" stroke="#2a2a2a" stroke-width="1"/>
<text x="35.5" y="445.57" font-size="6.1" text-anchor="end" font-weight="normal" font-style="normal" fill="#2a2a2a" class="k">100</text>
<line x1="39.5" y1="428.85" x2="42.5" y2="428.85" stroke="#2a2a2a" stroke-width="1"/>
<text x="35.5" y="431.05" font-size="6.1" text-anchor="end" font-weight="normal" font-style="normal" fill="#2a2a2a" class="k">150</text>
<line x1="39.5" y1="414.33" x2="42.5" y2="414.33" stroke="#2a2a2a" stroke-width="1"/>
<text x="35.5" y="416.53" font-size="6.1" text-anchor="end" font-weight="normal" font-style="normal" fill="#2a2a2a" class="k">200</text>
<line x1="39.5" y1="399.82" x2="42.5" y2="399.82" stroke="#2a2a2a" stroke-width="1"/>
<text x="35.5" y="402.02" font-size="6.1" text-anchor="end" font-weight="normal" font-style="normal" fill="#2a2a2a" class="k">250</text>
<line x1="39.5" y1="385.3" x2="42.5" y2="385.3" stroke="#2a2a2a" stroke-width="1"/>
<text x="35.5" y="387.5" font-size="6.1" text-anchor="end" font-weight="normal" font-style="normal" fill="#2a2a2a" class="k">300</text>
<line x1="42.5" y1="472.4" x2="162.5" y2="472.4" stroke="#2a2a2a" stroke-width="1"/>
<line x1="66.2" y1="388" x2="66.2" y2="472.4" stroke="#c4c4c4" stroke-width="0.7"/>
<line x1="97.9" y1="388" x2="97.9" y2="472.4" stroke="#c4c4c4" stroke-width="0.7"/>
<line x1="128.4" y1="388" x2="128.4" y2="472.4" stroke="#c4c4c4" stroke-width="0.7"/>
<text x="38.8" y="378.3" font-size="6" text-anchor="start" font-weight="normal" font-style="normal" fill="#2a2a2a">Etomoxir</text>
<text x="52" y="387.2" font-size="6" text-anchor="start" font-weight="normal" font-style="normal" fill="#2a2a2a">Oligomycin</text>
<text x="89.3" y="387.2" font-size="6" text-anchor="start" font-weight="normal" font-style="normal" fill="#2a2a2a">FCCP</text>
<text x="117" y="379.2" font-size="6" text-anchor="start" font-weight="normal" font-style="normal" fill="#2a2a2a">Rotenone/</text>
<text x="117" y="386.8" font-size="6" text-anchor="start" font-weight="normal" font-style="normal" fill="#2a2a2a">antimycin A</text>
<line x1="42.5" y1="472.4" x2="42.5" y2="475.4" stroke="#2a2a2a" stroke-width="1"/>
<text x="42.5" y="484" font-size="6.1" text-anchor="middle" font-weight="normal" font-style="normal" fill="#2a2a2a">0</text>
<line x1="99.5" y1="472.4" x2="99.5" y2="475.4" stroke="#2a2a2a" stroke-width="1"/>
<text x="99.8" y="484" font-size="6.1" text-anchor="middle" font-weight="normal" font-style="normal" fill="#2a2a2a">50</text>
<line x1="157.5" y1="472.4" x2="157.5" y2="475.4" stroke="#2a2a2a" stroke-width="1"/>
<text x="157.5" y="484" font-size="6.1" text-anchor="middle" font-weight="normal" font-style="normal" fill="#2a2a2a">100</text>
<text class="t" x="103.05" y="495.2" font-size="7.6" text-anchor="middle" fill="#2a2a2a" textLength="27.9" lengthAdjust="spacingAndGlyphs">Time (min)</text>
<text class="t" x="19.8" y="427.9" font-size="6.2" text-anchor="middle" fill="#2a2a2a" transform="rotate(-90 19.8 427.9)" textLength="40.9" lengthAdjust="spacingAndGlyphs">OCR (pmol/min)</text>
<line x1="43.9" y1="440.75" x2="43.9" y2="446.56" stroke="#3a3a3a" stroke-width="0.75"/>
<line x1="42.4" y1="440.75" x2="45.4" y2="440.75" stroke="#3a3a3a" stroke-width="0.75"/>
<line x1="42.4" y1="446.56" x2="45.4" y2="446.56" stroke="#3a3a3a" stroke-width="0.75"/>
<line x1="54.3" y1="439.59" x2="54.3" y2="445.4" stroke="#3a3a3a" stroke-width="0.75"/>
<line x1="52.8" y1="439.59" x2="55.8" y2="439.59" stroke="#3a3a3a" stroke-width="0.75"/>
<line x1="52.8" y1="445.4" x2="55.8" y2="445.4" stroke="#3a3a3a" stroke-width="0.75"/>
<line x1="64.4" y1="439.59" x2="64.4" y2="445.4" stroke="#3a3a3a" stroke-width="0.75"/>
<line x1="62.9" y1="439.59" x2="65.9" y2="439.59" stroke="#3a3a3a" stroke-width="0.75"/>
<line x1="62.9" y1="445.4" x2="65.9" y2="445.4" stroke="#3a3a3a" stroke-width="0.75"/>
<line x1="74.4" y1="452.08" x2="74.4" y2="454.98" stroke="#3a3a3a" stroke-width="0.75"/>
<line x1="72.9" y1="452.08" x2="75.9" y2="452.08" stroke="#3a3a3a" stroke-width="0.75"/>
<line x1="72.9" y1="454.98" x2="75.9" y2="454.98" stroke="#3a3a3a" stroke-width="0.75"/>
<line x1="84.7" y1="449.75" x2="84.7" y2="452.66" stroke="#3a3a3a" stroke-width="0.75"/>
<line x1="83.2" y1="449.75" x2="86.2" y2="449.75" stroke="#3a3a3a" stroke-width="0.75"/>
<line x1="83.2" y1="452.66" x2="86.2" y2="452.66" stroke="#3a3a3a" stroke-width="0.75"/>
<line x1="94.2" y1="449.17" x2="94.2" y2="452.08" stroke="#3a3a3a" stroke-width="0.75"/>
<line x1="92.7" y1="449.17" x2="95.7" y2="449.17" stroke="#3a3a3a" stroke-width="0.75"/>
<line x1="92.7" y1="452.08" x2="95.7" y2="452.08" stroke="#3a3a3a" stroke-width="0.75"/>
<line x1="104.3" y1="418.4" x2="104.3" y2="421.88" stroke="#3a3a3a" stroke-width="0.75"/>
<line x1="102.8" y1="418.4" x2="105.8" y2="418.4" stroke="#3a3a3a" stroke-width="0.75"/>
<line x1="102.8" y1="421.88" x2="105.8" y2="421.88" stroke="#3a3a3a" stroke-width="0.75"/>
<line x1="114.9" y1="425.95" x2="114.9" y2="429.43" stroke="#3a3a3a" stroke-width="0.75"/>
<line x1="113.4" y1="425.95" x2="116.4" y2="425.95" stroke="#3a3a3a" stroke-width="0.75"/>
<line x1="113.4" y1="429.43" x2="116.4" y2="429.43" stroke="#3a3a3a" stroke-width="0.75"/>
<line x1="125.2" y1="430.59" x2="125.2" y2="434.08" stroke="#3a3a3a" stroke-width="0.75"/>
<line x1="123.7" y1="430.59" x2="126.7" y2="430.59" stroke="#3a3a3a" stroke-width="0.75"/>
<line x1="123.7" y1="434.08" x2="126.7" y2="434.08" stroke="#3a3a3a" stroke-width="0.75"/>
<line x1="135.3" y1="459.33" x2="135.3" y2="461.08" stroke="#3a3a3a" stroke-width="0.75"/>
<line x1="133.8" y1="459.33" x2="136.8" y2="459.33" stroke="#3a3a3a" stroke-width="0.75"/>
<line x1="133.8" y1="461.08" x2="136.8" y2="461.08" stroke="#3a3a3a" stroke-width="0.75"/>
<line x1="145.3" y1="458.75" x2="145.3" y2="460.5" stroke="#3a3a3a" stroke-width="0.75"/>
<line x1="143.8" y1="458.75" x2="146.8" y2="458.75" stroke="#3a3a3a" stroke-width="0.75"/>
<line x1="143.8" y1="460.5" x2="146.8" y2="460.5" stroke="#3a3a3a" stroke-width="0.75"/>
<line x1="155.2" y1="458.75" x2="155.2" y2="460.5" stroke="#3a3a3a" stroke-width="0.75"/>
<line x1="153.7" y1="458.75" x2="156.7" y2="458.75" stroke="#3a3a3a" stroke-width="0.75"/>
<line x1="153.7" y1="460.5" x2="156.7" y2="460.5" stroke="#3a3a3a" stroke-width="0.75"/>
<polyline points="43.9,443.66 54.3,442.5 64.4,442.5 74.4,453.53 84.7,451.21 94.2,450.62 104.3,420.14 114.9,427.69 125.2,432.33 135.3,460.21 145.3,459.63 155.2,459.63" fill="none" stroke="#1b4679" stroke-width="1.15" stroke-linejoin="round"/>
<line x1="43.9" y1="448.3" x2="43.9" y2="454.11" stroke="#3a3a3a" stroke-width="0.75"/>
<line x1="42.4" y1="448.3" x2="45.4" y2="448.3" stroke="#3a3a3a" stroke-width="0.75"/>
<line x1="42.4" y1="454.11" x2="45.4" y2="454.11" stroke="#3a3a3a" stroke-width="0.75"/>
<line x1="54.3" y1="447.72" x2="54.3" y2="453.53" stroke="#3a3a3a" stroke-width="0.75"/>
<line x1="52.8" y1="447.72" x2="55.8" y2="447.72" stroke="#3a3a3a" stroke-width="0.75"/>
<line x1="52.8" y1="453.53" x2="55.8" y2="453.53" stroke="#3a3a3a" stroke-width="0.75"/>
<line x1="64.4" y1="447.72" x2="64.4" y2="453.53" stroke="#3a3a3a" stroke-width="0.75"/>
<line x1="62.9" y1="447.72" x2="65.9" y2="447.72" stroke="#3a3a3a" stroke-width="0.75"/>
<line x1="62.9" y1="453.53" x2="65.9" y2="453.53" stroke="#3a3a3a" stroke-width="0.75"/>
<line x1="74.4" y1="452.95" x2="74.4" y2="455.85" stroke="#3a3a3a" stroke-width="0.75"/>
<line x1="72.9" y1="452.95" x2="75.9" y2="452.95" stroke="#3a3a3a" stroke-width="0.75"/>
<line x1="72.9" y1="455.85" x2="75.9" y2="455.85" stroke="#3a3a3a" stroke-width="0.75"/>
<line x1="84.7" y1="449.75" x2="84.7" y2="452.66" stroke="#3a3a3a" stroke-width="0.75"/>
<line x1="83.2" y1="449.75" x2="86.2" y2="449.75" stroke="#3a3a3a" stroke-width="0.75"/>
<line x1="83.2" y1="452.66" x2="86.2" y2="452.66" stroke="#3a3a3a" stroke-width="0.75"/>
<line x1="94.2" y1="449.17" x2="94.2" y2="452.08" stroke="#3a3a3a" stroke-width="0.75"/>
<line x1="92.7" y1="449.17" x2="95.7" y2="449.17" stroke="#3a3a3a" stroke-width="0.75"/>
<line x1="92.7" y1="452.08" x2="95.7" y2="452.08" stroke="#3a3a3a" stroke-width="0.75"/>
<line x1="104.3" y1="438.72" x2="104.3" y2="444.53" stroke="#3a3a3a" stroke-width="0.75"/>
<line x1="102.8" y1="438.72" x2="105.8" y2="438.72" stroke="#3a3a3a" stroke-width="0.75"/>
<line x1="102.8" y1="444.53" x2="105.8" y2="444.53" stroke="#3a3a3a" stroke-width="0.75"/>
<line x1="114.9" y1="441.91" x2="114.9" y2="447.72" stroke="#3a3a3a" stroke-width="0.75"/>
<line x1="113.4" y1="441.91" x2="116.4" y2="441.91" stroke="#3a3a3a" stroke-width="0.75"/>
<line x1="113.4" y1="447.72" x2="116.4" y2="447.72" stroke="#3a3a3a" stroke-width="0.75"/>
<line x1="125.2" y1="445.11" x2="125.2" y2="450.92" stroke="#3a3a3a" stroke-width="0.75"/>
<line x1="123.7" y1="445.11" x2="126.7" y2="445.11" stroke="#3a3a3a" stroke-width="0.75"/>
<line x1="123.7" y1="450.92" x2="126.7" y2="450.92" stroke="#3a3a3a" stroke-width="0.75"/>
<line x1="135.3" y1="459.92" x2="135.3" y2="461.66" stroke="#3a3a3a" stroke-width="0.75"/>
<line x1="133.8" y1="459.92" x2="136.8" y2="459.92" stroke="#3a3a3a" stroke-width="0.75"/>
<line x1="133.8" y1="461.66" x2="136.8" y2="461.66" stroke="#3a3a3a" stroke-width="0.75"/>
<line x1="145.3" y1="459.33" x2="145.3" y2="461.08" stroke="#3a3a3a" stroke-width="0.75"/>
<line x1="143.8" y1="459.33" x2="146.8" y2="459.33" stroke="#3a3a3a" stroke-width="0.75"/>
<line x1="143.8" y1="461.08" x2="146.8" y2="461.08" stroke="#3a3a3a" stroke-width="0.75"/>
<line x1="155.2" y1="459.33" x2="155.2" y2="461.08" stroke="#3a3a3a" stroke-width="0.75"/>
<line x1="153.7" y1="459.33" x2="156.7" y2="459.33" stroke="#3a3a3a" stroke-width="0.75"/>
<line x1="153.7" y1="461.08" x2="156.7" y2="461.08" stroke="#3a3a3a" stroke-width="0.75"/>
<polyline points="43.9,451.21 54.3,450.62 64.4,450.62 74.4,454.4 84.7,451.21 94.2,450.62 104.3,441.62 114.9,444.82 125.2,448.01 135.3,460.79 145.3,460.21 155.2,460.21" fill="none" stroke="#1b4679" stroke-width="1.15" stroke-linejoin="round"/>
<line x1="43.9" y1="426.82" x2="43.9" y2="438.43" stroke="#3a3a3a" stroke-width="0.75"/>
<line x1="42.4" y1="426.82" x2="45.4" y2="426.82" stroke="#3a3a3a" stroke-width="0.75"/>
<line x1="42.4" y1="438.43" x2="45.4" y2="438.43" stroke="#3a3a3a" stroke-width="0.75"/>
<line x1="54.3" y1="423.91" x2="54.3" y2="438.43" stroke="#3a3a3a" stroke-width="0.75"/>
<line x1="52.8" y1="423.91" x2="55.8" y2="423.91" stroke="#3a3a3a" stroke-width="0.75"/>
<line x1="52.8" y1="438.43" x2="55.8" y2="438.43" stroke="#3a3a3a" stroke-width="0.75"/>
<line x1="64.4" y1="423.91" x2="64.4" y2="438.43" stroke="#3a3a3a" stroke-width="0.75"/>
<line x1="62.9" y1="423.91" x2="65.9" y2="423.91" stroke="#3a3a3a" stroke-width="0.75"/>
<line x1="62.9" y1="438.43" x2="65.9" y2="438.43" stroke="#3a3a3a" stroke-width="0.75"/>
<line x1="74.4" y1="451.79" x2="74.4" y2="454.69" stroke="#3a3a3a" stroke-width="0.75"/>
<line x1="72.9" y1="451.79" x2="75.9" y2="451.79" stroke="#3a3a3a" stroke-width="0.75"/>
<line x1="72.9" y1="454.69" x2="75.9" y2="454.69" stroke="#3a3a3a" stroke-width="0.75"/>
<line x1="84.7" y1="449.75" x2="84.7" y2="452.66" stroke="#3a3a3a" stroke-width="0.75"/>
<line x1="83.2" y1="449.75" x2="86.2" y2="449.75" stroke="#3a3a3a" stroke-width="0.75"/>
<line x1="83.2" y1="452.66" x2="86.2" y2="452.66" stroke="#3a3a3a" stroke-width="0.75"/>
<line x1="94.2" y1="449.17" x2="94.2" y2="452.08" stroke="#3a3a3a" stroke-width="0.75"/>
<line x1="92.7" y1="449.17" x2="95.7" y2="449.17" stroke="#3a3a3a" stroke-width="0.75"/>
<line x1="92.7" y1="452.08" x2="95.7" y2="452.08" stroke="#3a3a3a" stroke-width="0.75"/>
<line x1="104.3" y1="389.66" x2="104.3" y2="411.72" stroke="#3a3a3a" stroke-width="0.75"/>
<line x1="102.8" y1="389.66" x2="105.8" y2="389.66" stroke="#3a3a3a" stroke-width="0.75"/>
<line x1="102.8" y1="411.72" x2="105.8" y2="411.72" stroke="#3a3a3a" stroke-width="0.75"/>
<line x1="114.9" y1="405.91" x2="114.9" y2="426.82" stroke="#3a3a3a" stroke-width="0.75"/>
<line x1="113.4" y1="405.91" x2="116.4" y2="405.91" stroke="#3a3a3a" stroke-width="0.75"/>
<line x1="113.4" y1="426.82" x2="116.4" y2="426.82" stroke="#3a3a3a" stroke-width="0.75"/>
<line x1="125.2" y1="412.88" x2="125.2" y2="433.79" stroke="#3a3a3a" stroke-width="0.75"/>
<line x1="123.7" y1="412.88" x2="126.7" y2="412.88" stroke="#3a3a3a" stroke-width="0.75"/>
<line x1="123.7" y1="433.79" x2="126.7" y2="433.79" stroke="#3a3a3a" stroke-width="0.75"/>
<line x1="135.3" y1="458.75" x2="135.3" y2="460.5" stroke="#3a3a3a" stroke-width="0.75"/>
<line x1="133.8" y1="458.75" x2="136.8" y2="458.75" stroke="#3a3a3a" stroke-width="0.75"/>
<line x1="133.8" y1="460.5" x2="136.8" y2="460.5" stroke="#3a3a3a" stroke-width="0.75"/>
<line x1="145.3" y1="457.3" x2="145.3" y2="459.04" stroke="#3a3a3a" stroke-width="0.75"/>
<line x1="143.8" y1="457.3" x2="146.8" y2="457.3" stroke="#3a3a3a" stroke-width="0.75"/>
<line x1="143.8" y1="459.04" x2="146.8" y2="459.04" stroke="#3a3a3a" stroke-width="0.75"/>
<line x1="155.2" y1="457.3" x2="155.2" y2="459.04" stroke="#3a3a3a" stroke-width="0.75"/>
<line x1="153.7" y1="457.3" x2="156.7" y2="457.3" stroke="#3a3a3a" stroke-width="0.75"/>
<line x1="153.7" y1="459.04" x2="156.7" y2="459.04" stroke="#3a3a3a" stroke-width="0.75"/>
<polyline points="43.9,432.62 54.3,431.17 64.4,431.17 74.4,453.24 84.7,451.21 94.2,450.62 104.3,400.69 114.9,416.37 125.2,423.33 135.3,459.63 145.3,458.17 155.2,458.17" fill="none" stroke="#F39200" stroke-width="1.15" stroke-linejoin="round"/>
<line x1="43.9" y1="450.33" x2="43.9" y2="456.14" stroke="#3a3a3a" stroke-width="0.75"/>
<line x1="42.4" y1="450.33" x2="45.4" y2="450.33" stroke="#3a3a3a" stroke-width="0.75"/>
<line x1="42.4" y1="456.14" x2="45.4" y2="456.14" stroke="#3a3a3a" stroke-width="0.75"/>
<line x1="54.3" y1="448.3" x2="54.3" y2="457.01" stroke="#3a3a3a" stroke-width="0.75"/>
<line x1="52.8" y1="448.3" x2="55.8" y2="448.3" stroke="#3a3a3a" stroke-width="0.75"/>
<line x1="52.8" y1="457.01" x2="55.8" y2="457.01" stroke="#3a3a3a" stroke-width="0.75"/>
<line x1="64.4" y1="448.3" x2="64.4" y2="457.01" stroke="#3a3a3a" stroke-width="0.75"/>
<line x1="62.9" y1="448.3" x2="65.9" y2="448.3" stroke="#3a3a3a" stroke-width="0.75"/>
<line x1="62.9" y1="457.01" x2="65.9" y2="457.01" stroke="#3a3a3a" stroke-width="0.75"/>
<line x1="74.4" y1="453.53" x2="74.4" y2="456.43" stroke="#3a3a3a" stroke-width="0.75"/>
<line x1="72.9" y1="453.53" x2="75.9" y2="453.53" stroke="#3a3a3a" stroke-width="0.75"/>
<line x1="72.9" y1="456.43" x2="75.9" y2="456.43" stroke="#3a3a3a" stroke-width="0.75"/>
<line x1="84.7" y1="451.79" x2="84.7" y2="454.69" stroke="#3a3a3a" stroke-width="0.75"/>
<line x1="83.2" y1="451.79" x2="86.2" y2="451.79" stroke="#3a3a3a" stroke-width="0.75"/>
<line x1="83.2" y1="454.69" x2="86.2" y2="454.69" stroke="#3a3a3a" stroke-width="0.75"/>
<line x1="94.2" y1="450.04" x2="94.2" y2="452.95" stroke="#3a3a3a" stroke-width="0.75"/>
<line x1="92.7" y1="450.04" x2="95.7" y2="450.04" stroke="#3a3a3a" stroke-width="0.75"/>
<line x1="92.7" y1="452.95" x2="95.7" y2="452.95" stroke="#3a3a3a" stroke-width="0.75"/>
<line x1="104.3" y1="439.3" x2="104.3" y2="445.11" stroke="#3a3a3a" stroke-width="0.75"/>
<line x1="102.8" y1="439.3" x2="105.8" y2="439.3" stroke="#3a3a3a" stroke-width="0.75"/>
<line x1="102.8" y1="445.11" x2="105.8" y2="445.11" stroke="#3a3a3a" stroke-width="0.75"/>
<line x1="114.9" y1="445.11" x2="114.9" y2="450.92" stroke="#3a3a3a" stroke-width="0.75"/>
<line x1="113.4" y1="445.11" x2="116.4" y2="445.11" stroke="#3a3a3a" stroke-width="0.75"/>
<line x1="113.4" y1="450.92" x2="116.4" y2="450.92" stroke="#3a3a3a" stroke-width="0.75"/>
<line x1="125.2" y1="447.14" x2="125.2" y2="452.95" stroke="#3a3a3a" stroke-width="0.75"/>
<line x1="123.7" y1="447.14" x2="126.7" y2="447.14" stroke="#3a3a3a" stroke-width="0.75"/>
<line x1="123.7" y1="452.95" x2="126.7" y2="452.95" stroke="#3a3a3a" stroke-width="0.75"/>
<line x1="135.3" y1="460.5" x2="135.3" y2="462.24" stroke="#3a3a3a" stroke-width="0.75"/>
<line x1="133.8" y1="460.5" x2="136.8" y2="460.5" stroke="#3a3a3a" stroke-width="0.75"/>
<line x1="133.8" y1="462.24" x2="136.8" y2="462.24" stroke="#3a3a3a" stroke-width="0.75"/>
<line x1="145.3" y1="460.21" x2="145.3" y2="461.95" stroke="#3a3a3a" stroke-width="0.75"/>
<line x1="143.8" y1="460.21" x2="146.8" y2="460.21" stroke="#3a3a3a" stroke-width="0.75"/>
<line x1="143.8" y1="461.95" x2="146.8" y2="461.95" stroke="#3a3a3a" stroke-width="0.75"/>
<line x1="155.2" y1="460.21" x2="155.2" y2="461.95" stroke="#3a3a3a" stroke-width="0.75"/>
<line x1="153.7" y1="460.21" x2="156.7" y2="460.21" stroke="#3a3a3a" stroke-width="0.75"/>
<line x1="153.7" y1="461.95" x2="156.7" y2="461.95" stroke="#3a3a3a" stroke-width="0.75"/>
<polyline points="43.9,453.24 54.3,452.66 64.4,452.66 74.4,454.98 84.7,453.24 94.2,451.5 104.3,442.21 114.9,448.01 125.2,450.04 135.3,461.37 145.3,461.08 155.2,461.08" fill="none" stroke="#F39200" stroke-width="1.15" stroke-linejoin="round"/>
<circle cx="43.9" cy="443.66" r="1.65" fill="#1b4679" stroke="#1b4679" stroke-width="0.8"/>
<circle cx="54.3" cy="442.5" r="1.65" fill="#1b4679" stroke="#1b4679" stroke-width="0.8"/>
<circle cx="64.4" cy="442.5" r="1.65" fill="#1b4679" stroke="#1b4679" stroke-width="0.8"/>
<circle cx="74.4" cy="453.53" r="1.65" fill="#1b4679" stroke="#1b4679" stroke-width="0.8"/>
<circle cx="84.7" cy="451.21" r="1.65" fill="#1b4679" stroke="#1b4679" stroke-width="0.8"/>
<circle cx="94.2" cy="450.62" r="1.65" fill="#1b4679" stroke="#1b4679" stroke-width="0.8"/>
<circle cx="104.3" cy="420.14" r="1.65" fill="#1b4679" stroke="#1b4679" stroke-width="0.8"/>
<circle cx="114.9" cy="427.69" r="1.65" fill="#1b4679" stroke="#1b4679" stroke-width="0.8"/>
<circle cx="125.2" cy="432.33" r="1.65" fill="#1b4679" stroke="#1b4679" stroke-width="0.8"/>
<circle cx="135.3" cy="460.21" r="1.65" fill="#1b4679" stroke="#1b4679" stroke-width="0.8"/>
<circle cx="145.3" cy="459.63" r="1.65" fill="#1b4679" stroke="#1b4679" stroke-width="0.8"/>
<circle cx="155.2" cy="459.63" r="1.65" fill="#1b4679" stroke="#1b4679" stroke-width="0.8"/>
<circle cx="43.9" cy="451.21" r="1.95" fill="#fff" stroke="#1b4679" stroke-width="1.15"/>
<circle cx="54.3" cy="450.62" r="1.95" fill="#fff" stroke="#1b4679" stroke-width="1.15"/>
<circle cx="64.4" cy="450.62" r="1.95" fill="#fff" stroke="#1b4679" stroke-width="1.15"/>
<circle cx="74.4" cy="454.4" r="1.95" fill="#fff" stroke="#1b4679" stroke-width="1.15"/>
<circle cx="84.7" cy="451.21" r="1.95" fill="#fff" stroke="#1b4679" stroke-width="1.15"/>
<circle cx="94.2" cy="450.62" r="1.95" fill="#fff" stroke="#1b4679" stroke-width="1.15"/>
<circle cx="104.3" cy="441.62" r="1.95" fill="#fff" stroke="#1b4679" stroke-width="1.15"/>
<circle cx="114.9" cy="444.82" r="1.95" fill="#fff" stroke="#1b4679" stroke-width="1.15"/>
<circle cx="125.2" cy="448.01" r="1.95" fill="#fff" stroke="#1b4679" stroke-width="1.15"/>
<circle cx="135.3" cy="460.79" r="1.95" fill="#fff" stroke="#1b4679" stroke-width="1.15"/>
<circle cx="145.3" cy="460.21" r="1.95" fill="#fff" stroke="#1b4679" stroke-width="1.15"/>
<circle cx="155.2" cy="460.21" r="1.95" fill="#fff" stroke="#1b4679" stroke-width="1.15"/>
<circle cx="43.9" cy="432.62" r="1.65" fill="#F39200" stroke="#F39200" stroke-width="0.8"/>
<circle cx="54.3" cy="431.17" r="1.65" fill="#F39200" stroke="#F39200" stroke-width="0.8"/>
<circle cx="64.4" cy="431.17" r="1.65" fill="#F39200" stroke="#F39200" stroke-width="0.8"/>
<circle cx="74.4" cy="453.24" r="1.65" fill="#F39200" stroke="#F39200" stroke-width="0.8"/>
<circle cx="84.7" cy="451.21" r="1.65" fill="#F39200" stroke="#F39200" stroke-width="0.8"/>
<circle cx="94.2" cy="450.62" r="1.65" fill="#F39200" stroke="#F39200" stroke-width="0.8"/>
<circle cx="104.3" cy="400.69" r="1.65" fill="#F39200" stroke="#F39200" stroke-width="0.8"/>
<circle cx="114.9" cy="416.37" r="1.65" fill="#F39200" stroke="#F39200" stroke-width="0.8"/>
<circle cx="125.2" cy="423.33" r="1.65" fill="#F39200" stroke="#F39200" stroke-width="0.8"/>
<circle cx="135.3" cy="459.63" r="1.65" fill="#F39200" stroke="#F39200" stroke-width="0.8"/>
<circle cx="145.3" cy="458.17" r="1.65" fill="#F39200" stroke="#F39200" stroke-width="0.8"/>
<circle cx="155.2" cy="458.17" r="1.65" fill="#F39200" stroke="#F39200" stroke-width="0.8"/>
<circle cx="43.9" cy="453.24" r="1.95" fill="#fff" stroke="#F39200" stroke-width="1.15"/>
<circle cx="54.3" cy="452.66" r="1.95" fill="#fff" stroke="#F39200" stroke-width="1.15"/>
<circle cx="64.4" cy="452.66" r="1.95" fill="#fff" stroke="#F39200" stroke-width="1.15"/>
<circle cx="74.4" cy="454.98" r="1.95" fill="#fff" stroke="#F39200" stroke-width="1.15"/>
<circle cx="84.7" cy="453.24" r="1.95" fill="#fff" stroke="#F39200" stroke-width="1.15"/>
<circle cx="94.2" cy="451.5" r="1.95" fill="#fff" stroke="#F39200" stroke-width="1.15"/>
<circle cx="104.3" cy="442.21" r="1.95" fill="#fff" stroke="#F39200" stroke-width="1.15"/>
<circle cx="114.9" cy="448.01" r="1.95" fill="#fff" stroke="#F39200" stroke-width="1.15"/>
<circle cx="125.2" cy="450.04" r="1.95" fill="#fff" stroke="#F39200" stroke-width="1.15"/>
<circle cx="135.3" cy="461.37" r="1.95" fill="#fff" stroke="#F39200" stroke-width="1.15"/>
<circle cx="145.3" cy="461.08" r="1.95" fill="#fff" stroke="#F39200" stroke-width="1.15"/>
<circle cx="155.2" cy="461.08" r="1.95" fill="#fff" stroke="#F39200" stroke-width="1.15"/>
<line x1="29.5" y1="506.8" x2="41.2" y2="506.8" stroke="#1b4679" stroke-width="1.2"/>
<circle cx="35.35" cy="506.8" r="1.65" fill="#1b4679" stroke="#1b4679" stroke-width="0.8"/>
<text x="44.3" y="508.9" font-size="6.1" fill="#2a2a2a" textLength="37.4" lengthAdjust="spacingAndGlyphs">Control vector</text>
<line x1="29.5" y1="515.5" x2="41.2" y2="515.5" stroke="#1b4679" stroke-width="1.2"/>
<circle cx="35.35" cy="515.5" r="1.95" fill="#fff" stroke="#1b4679" stroke-width="1.15"/>
<text x="44.3" y="517.6" font-size="6.1" fill="#2a2a2a" textLength="67.4" lengthAdjust="spacingAndGlyphs">Control vector + etomoxir</text>
<line x1="122" y1="506.8" x2="134.3" y2="506.8" stroke="#F39200" stroke-width="1.2"/>
<circle cx="128.15" cy="506.8" r="1.65" fill="#F39200" stroke="#F39200" stroke-width="0.8"/>
<text x="136.3" y="508.9" font-size="6.1" fill="#2a2a2a"><tspan font-style="italic">PPARG</tspan>-OE</text>
<line x1="122" y1="515.5" x2="134.3" y2="515.5" stroke="#F39200" stroke-width="1.2"/>
<circle cx="128.15" cy="515.5" r="1.95" fill="#fff" stroke="#F39200" stroke-width="1.15"/>
<text x="136.3" y="517.6" font-size="6.1" fill="#2a2a2a" textLength="61.6" lengthAdjust="spacingAndGlyphs"><tspan font-style="italic">PPARG</tspan>-OE + etomoxir</text>
<text x="225.5" y="362.8" font-size="7.8" text-anchor="middle" font-weight="normal" font-style="normal" fill="#2a2a2a">Maximal</text>
<text x="225.5" y="372.8" font-size="7.8" text-anchor="middle" font-weight="normal" font-style="normal" fill="#2a2a2a">Respiration</text>
<line x1="202.7" y1="384.1" x2="202.7" y2="473.1" stroke="#2a2a2a" stroke-width="1"/>
<line x1="199.7" y1="472.6" x2="202.7" y2="472.6" stroke="#2a2a2a" stroke-width="1"/>
<text x="195.7" y="474.8" font-size="6.1" text-anchor="end" font-weight="normal" font-style="normal" fill="#2a2a2a" class="k">0</text>
<line x1="199.7" y1="455.44" x2="202.7" y2="455.44" stroke="#2a2a2a" stroke-width="1"/>
<text x="195.7" y="457.64" font-size="6.1" text-anchor="end" font-weight="normal" font-style="normal" fill="#2a2a2a" class="k">50</text>
<line x1="199.7" y1="438.28" x2="202.7" y2="438.28" stroke="#2a2a2a" stroke-width="1"/>
<text x="195.7" y="440.48" font-size="6.1" text-anchor="end" font-weight="normal" font-style="normal" fill="#2a2a2a" class="k">100</text>
<line x1="199.7" y1="421.12" x2="202.7" y2="421.12" stroke="#2a2a2a" stroke-width="1"/>
<text x="195.7" y="423.32" font-size="6.1" text-anchor="end" font-weight="normal" font-style="normal" fill="#2a2a2a" class="k">150</text>
<line x1="199.7" y1="403.96" x2="202.7" y2="403.96" stroke="#2a2a2a" stroke-width="1"/>
<text x="195.7" y="406.16" font-size="6.1" text-anchor="end" font-weight="normal" font-style="normal" fill="#2a2a2a" class="k">200</text>
<line x1="199.7" y1="386.8" x2="202.7" y2="386.8" stroke="#2a2a2a" stroke-width="1"/>
<text x="195.7" y="389" font-size="6.1" text-anchor="end" font-weight="normal" font-style="normal" fill="#2a2a2a" class="k">250</text>
<line x1="202.7" y1="472.6" x2="247.5" y2="472.6" stroke="#2a2a2a" stroke-width="1"/>
<text class="t" x="180.7" y="428.1" font-size="6.2" text-anchor="middle" fill="#2a2a2a" transform="rotate(-90 180.7 428.1)" textLength="40.3" lengthAdjust="spacingAndGlyphs">OCR (pmol/min)</text>
<rect x="205.45" y="426.95" width="7.6" height="45.65" fill="#155090"/>
<rect x="216.2" y="450.29" width="7.6" height="22.31" fill="#155090"/>
<rect x="226.95" y="404.65" width="7.6" height="67.95" fill="#F39200"/>
<rect x="237.95" y="448.58" width="7.6" height="24.02" fill="#F39200"/>
<line x1="209.25" y1="424.9" x2="209.25" y2="429.01" stroke="#333" stroke-width="0.8"/>
<line x1="207.75" y1="424.9" x2="210.75" y2="424.9" stroke="#333" stroke-width="0.8"/>
<line x1="207.75" y1="429.01" x2="210.75" y2="429.01" stroke="#333" stroke-width="0.8"/>
<line x1="220" y1="445.14" x2="220" y2="455.44" stroke="#333" stroke-width="0.8"/>
<line x1="218.5" y1="445.14" x2="221.5" y2="445.14" stroke="#333" stroke-width="0.8"/>
<line x1="218.5" y1="455.44" x2="221.5" y2="455.44" stroke="#333" stroke-width="0.8"/>
<line x1="230.75" y1="390.92" x2="230.75" y2="418.37" stroke="#333" stroke-width="0.8"/>
<line x1="229.25" y1="390.92" x2="232.25" y2="390.92" stroke="#333" stroke-width="0.8"/>
<line x1="229.25" y1="418.37" x2="232.25" y2="418.37" stroke="#333" stroke-width="0.8"/>
<line x1="241.75" y1="446.86" x2="241.75" y2="450.29" stroke="#333" stroke-width="0.8"/>
<line x1="240.25" y1="446.86" x2="243.25" y2="446.86" stroke="#333" stroke-width="0.8"/>
<line x1="240.25" y1="450.29" x2="243.25" y2="450.29" stroke="#333" stroke-width="0.8"/>
<line x1="209.5" y1="472.6" x2="209.5" y2="475.6" stroke="#2a2a2a" stroke-width="1"/>
<line x1="220.5" y1="472.6" x2="220.5" y2="475.6" stroke="#2a2a2a" stroke-width="1"/>
<line x1="230.5" y1="472.6" x2="230.5" y2="475.6" stroke="#2a2a2a" stroke-width="1"/>
<line x1="241.5" y1="472.6" x2="241.5" y2="475.6" stroke="#2a2a2a" stroke-width="1"/>
<line x1="208.05" y1="482.3" x2="210.45" y2="482.3" stroke="#333" stroke-width="0.8"/>
<line x1="218.7" y1="482.3" x2="221.3" y2="482.3" stroke="#333" stroke-width="0.8"/>
<line x1="220" y1="481" x2="220" y2="483.6" stroke="#333" stroke-width="0.8"/>
<line x1="229.55" y1="482.3" x2="231.95" y2="482.3" stroke="#333" stroke-width="0.8"/>
<line x1="240.45" y1="482.3" x2="243.05" y2="482.3" stroke="#333" stroke-width="0.8"/>
<line x1="241.75" y1="481" x2="241.75" y2="483.6" stroke="#333" stroke-width="0.8"/>
<line x1="206.25" y1="488.5" x2="244.2" y2="488.5" stroke="#2a2a2a" stroke-width="1"/>
<text class="t" x="225.35" y="498.6" font-size="8" text-anchor="middle" fill="#2a2a2a" textLength="21.9" lengthAdjust="spacingAndGlyphs">Etomoxir</text>
<line x1="231" y1="387.6" x2="240.8" y2="387.6" stroke="#555" stroke-width="0.8"/>
<text x="235.9" y="387" font-size="5" text-anchor="middle" font-weight="normal" font-style="normal" fill="#2a2a2a">*</text>
<text x="341.3" y="364.9" font-size="8.4" text-anchor="middle" font-weight="normal" font-style="normal" fill="#2a2a2a">MV4;11</text>
<line x1="295.1" y1="385.7" x2="295.1" y2="472.9" stroke="#2a2a2a" stroke-width="1"/>
<line x1="292.1" y1="472.4" x2="295.1" y2="472.4" stroke="#2a2a2a" stroke-width="1"/>
<text x="288.1" y="474.6" font-size="6.1" text-anchor="end" font-weight="normal" font-style="normal" fill="#2a2a2a" class="k">0</text>
<line x1="292.1" y1="461.9" x2="295.1" y2="461.9" stroke="#2a2a2a" stroke-width="1"/>
<text x="288.1" y="464.1" font-size="6.1" text-anchor="end" font-weight="normal" font-style="normal" fill="#2a2a2a" class="k">50</text>
<line x1="292.1" y1="451.4" x2="295.1" y2="451.4" stroke="#2a2a2a" stroke-width="1"/>
<text x="288.1" y="453.6" font-size="6.1" text-anchor="end" font-weight="normal" font-style="normal" fill="#2a2a2a" class="k">100</text>
<line x1="292.1" y1="440.9" x2="295.1" y2="440.9" stroke="#2a2a2a" stroke-width="1"/>
<text x="288.1" y="443.1" font-size="6.1" text-anchor="end" font-weight="normal" font-style="normal" fill="#2a2a2a" class="k">150</text>
<line x1="292.1" y1="430.4" x2="295.1" y2="430.4" stroke="#2a2a2a" stroke-width="1"/>
<text x="288.1" y="432.6" font-size="6.1" text-anchor="end" font-weight="normal" font-style="normal" fill="#2a2a2a" class="k">200</text>
<line x1="292.1" y1="419.9" x2="295.1" y2="419.9" stroke="#2a2a2a" stroke-width="1"/>
<text x="288.1" y="422.1" font-size="6.1" text-anchor="end" font-weight="normal" font-style="normal" fill="#2a2a2a" class="k">250</text>
<line x1="292.1" y1="409.4" x2="295.1" y2="409.4" stroke="#2a2a2a" stroke-width="1"/>
<text x="288.1" y="411.6" font-size="6.1" text-anchor="end" font-weight="normal" font-style="normal" fill="#2a2a2a" class="k">300</text>
<line x1="292.1" y1="398.9" x2="295.1" y2="398.9" stroke="#2a2a2a" stroke-width="1"/>
<text x="288.1" y="401.1" font-size="6.1" text-anchor="end" font-weight="normal" font-style="normal" fill="#2a2a2a" class="k">350</text>
<line x1="292.1" y1="388.4" x2="295.1" y2="388.4" stroke="#2a2a2a" stroke-width="1"/>
<text x="288.1" y="390.6" font-size="6.1" text-anchor="end" font-weight="normal" font-style="normal" fill="#2a2a2a" class="k">400</text>
<line x1="295.1" y1="472.4" x2="428.5" y2="472.4" stroke="#2a2a2a" stroke-width="1"/>
<line x1="315.8" y1="388" x2="315.8" y2="472.4" stroke="#c4c4c4" stroke-width="0.7"/>
<line x1="338.4" y1="388" x2="338.4" y2="472.4" stroke="#c4c4c4" stroke-width="0.7"/>
<line x1="361.4" y1="388" x2="361.4" y2="472.4" stroke="#c4c4c4" stroke-width="0.7"/>
<line x1="384.3" y1="388" x2="384.3" y2="472.4" stroke="#c4c4c4" stroke-width="0.7"/>
<text x="305" y="378.3" font-size="6" text-anchor="start" font-weight="normal" font-style="normal" fill="#2a2a2a">Etomoxir</text>
<text x="319.3" y="385.5" font-size="6" text-anchor="start" font-weight="normal" font-style="normal" fill="#2a2a2a">Oligomycin</text>
<text x="354" y="385.5" font-size="6" text-anchor="start" font-weight="normal" font-style="normal" fill="#2a2a2a">FCCP</text>
<text x="377.5" y="379.9" font-size="6" text-anchor="start" font-weight="normal" font-style="normal" fill="#2a2a2a">Rotenone/</text>
<text x="377.5" y="387.1" font-size="6" text-anchor="start" font-weight="normal" font-style="normal" fill="#2a2a2a">antimycin A</text>
<line x1="295.5" y1="472.4" x2="295.5" y2="475.4" stroke="#2a2a2a" stroke-width="1"/>
<text x="295.4" y="484" font-size="6.1" text-anchor="middle" font-weight="normal" font-style="normal" fill="#2a2a2a">0</text>
<line x1="338.5" y1="472.4" x2="338.5" y2="475.4" stroke="#2a2a2a" stroke-width="1"/>
<text x="338.75" y="484" font-size="6.1" text-anchor="middle" font-weight="normal" font-style="normal" fill="#2a2a2a">50</text>
<line x1="382.5" y1="472.4" x2="382.5" y2="475.4" stroke="#2a2a2a" stroke-width="1"/>
<text x="382.5" y="484" font-size="6.1" text-anchor="middle" font-weight="normal" font-style="normal" fill="#2a2a2a">100</text>
<line x1="426.5" y1="472.4" x2="426.5" y2="475.4" stroke="#2a2a2a" stroke-width="1"/>
<text x="426.25" y="484" font-size="6.1" text-anchor="middle" font-weight="normal" font-style="normal" fill="#2a2a2a">150</text>
<text class="t" x="362.1" y="495.7" font-size="7.6" text-anchor="middle" fill="#2a2a2a" textLength="27.9" lengthAdjust="spacingAndGlyphs">Time (min)</text>
<text class="t" x="272.4" y="428.1" font-size="6.2" text-anchor="middle" fill="#2a2a2a" transform="rotate(-90 272.4 428.1)" textLength="41.5" lengthAdjust="spacingAndGlyphs">OCR (pmol/min)</text>
<line x1="296" y1="435.65" x2="296" y2="441.95" stroke="#3a3a3a" stroke-width="0.75"/>
<line x1="294.5" y1="435.65" x2="297.5" y2="435.65" stroke="#3a3a3a" stroke-width="0.75"/>
<line x1="294.5" y1="441.95" x2="297.5" y2="441.95" stroke="#3a3a3a" stroke-width="0.75"/>
<line x1="303.9" y1="429.98" x2="303.9" y2="442.58" stroke="#3a3a3a" stroke-width="0.75"/>
<line x1="302.4" y1="429.98" x2="305.4" y2="429.98" stroke="#3a3a3a" stroke-width="0.75"/>
<line x1="302.4" y1="442.58" x2="305.4" y2="442.58" stroke="#3a3a3a" stroke-width="0.75"/>
<line x1="311.5" y1="427.25" x2="311.5" y2="441.95" stroke="#3a3a3a" stroke-width="0.75"/>
<line x1="310" y1="427.25" x2="313" y2="427.25" stroke="#3a3a3a" stroke-width="0.75"/>
<line x1="310" y1="441.95" x2="313" y2="441.95" stroke="#3a3a3a" stroke-width="0.75"/>
<line x1="319.4" y1="432.08" x2="319.4" y2="437.12" stroke="#3a3a3a" stroke-width="0.75"/>
<line x1="317.9" y1="432.08" x2="320.9" y2="432.08" stroke="#3a3a3a" stroke-width="0.75"/>
<line x1="317.9" y1="437.12" x2="320.9" y2="437.12" stroke="#3a3a3a" stroke-width="0.75"/>
<line x1="327.2" y1="431.66" x2="327.2" y2="436.7" stroke="#3a3a3a" stroke-width="0.75"/>
<line x1="325.7" y1="431.66" x2="328.7" y2="431.66" stroke="#3a3a3a" stroke-width="0.75"/>
<line x1="325.7" y1="436.7" x2="328.7" y2="436.7" stroke="#3a3a3a" stroke-width="0.75"/>
<line x1="334.3" y1="431.66" x2="334.3" y2="436.7" stroke="#3a3a3a" stroke-width="0.75"/>
<line x1="332.8" y1="431.66" x2="335.8" y2="431.66" stroke="#3a3a3a" stroke-width="0.75"/>
<line x1="332.8" y1="436.7" x2="335.8" y2="436.7" stroke="#3a3a3a" stroke-width="0.75"/>
<line x1="342.6" y1="456.02" x2="342.6" y2="461.06" stroke="#3a3a3a" stroke-width="0.75"/>
<line x1="341.1" y1="456.02" x2="344.1" y2="456.02" stroke="#3a3a3a" stroke-width="0.75"/>
<line x1="341.1" y1="461.06" x2="344.1" y2="461.06" stroke="#3a3a3a" stroke-width="0.75"/>
<line x1="349.9" y1="454.97" x2="349.9" y2="461.27" stroke="#3a3a3a" stroke-width="0.75"/>
<line x1="348.4" y1="454.97" x2="351.4" y2="454.97" stroke="#3a3a3a" stroke-width="0.75"/>
<line x1="348.4" y1="461.27" x2="351.4" y2="461.27" stroke="#3a3a3a" stroke-width="0.75"/>
<line x1="357.5" y1="455.6" x2="357.5" y2="460.64" stroke="#3a3a3a" stroke-width="0.75"/>
<line x1="356" y1="455.6" x2="359" y2="455.6" stroke="#3a3a3a" stroke-width="0.75"/>
<line x1="356" y1="460.64" x2="359" y2="460.64" stroke="#3a3a3a" stroke-width="0.75"/>
<line x1="365.2" y1="432.5" x2="365.2" y2="443" stroke="#3a3a3a" stroke-width="0.75"/>
<line x1="363.7" y1="432.5" x2="366.7" y2="432.5" stroke="#3a3a3a" stroke-width="0.75"/>
<line x1="363.7" y1="443" x2="366.7" y2="443" stroke="#3a3a3a" stroke-width="0.75"/>
<line x1="372.8" y1="436.07" x2="372.8" y2="446.57" stroke="#3a3a3a" stroke-width="0.75"/>
<line x1="371.3" y1="436.07" x2="374.3" y2="436.07" stroke="#3a3a3a" stroke-width="0.75"/>
<line x1="371.3" y1="446.57" x2="374.3" y2="446.57" stroke="#3a3a3a" stroke-width="0.75"/>
<line x1="380.3" y1="439.43" x2="380.3" y2="449.93" stroke="#3a3a3a" stroke-width="0.75"/>
<line x1="378.8" y1="439.43" x2="381.8" y2="439.43" stroke="#3a3a3a" stroke-width="0.75"/>
<line x1="378.8" y1="449.93" x2="381.8" y2="449.93" stroke="#3a3a3a" stroke-width="0.75"/>
<line x1="388.3" y1="461.9" x2="388.3" y2="469.04" stroke="#3a3a3a" stroke-width="0.75"/>
<line x1="386.8" y1="461.9" x2="389.8" y2="461.9" stroke="#3a3a3a" stroke-width="0.75"/>
<line x1="386.8" y1="469.04" x2="389.8" y2="469.04" stroke="#3a3a3a" stroke-width="0.75"/>
<line x1="395.6" y1="461.9" x2="395.6" y2="469.04" stroke="#3a3a3a" stroke-width="0.75"/>
<line x1="394.1" y1="461.9" x2="397.1" y2="461.9" stroke="#3a3a3a" stroke-width="0.75"/>
<line x1="394.1" y1="469.04" x2="397.1" y2="469.04" stroke="#3a3a3a" stroke-width="0.75"/>
<line x1="403.2" y1="461.9" x2="403.2" y2="469.04" stroke="#3a3a3a" stroke-width="0.75"/>
<line x1="401.7" y1="461.9" x2="404.7" y2="461.9" stroke="#3a3a3a" stroke-width="0.75"/>
<line x1="401.7" y1="469.04" x2="404.7" y2="469.04" stroke="#3a3a3a" stroke-width="0.75"/>
<polyline points="296,438.8 303.9,436.28 311.5,434.6 319.4,434.6 327.2,434.18 334.3,434.18 342.6,458.54 349.9,458.12 357.5,458.12 365.2,437.75 372.8,441.32 380.3,444.68 388.3,465.47 395.6,465.47 403.2,465.47" fill="none" stroke="#1b4679" stroke-width="1" stroke-linejoin="round"/>
<line x1="296" y1="435.65" x2="296" y2="444.05" stroke="#3a3a3a" stroke-width="0.75"/>
<line x1="294.5" y1="435.65" x2="297.5" y2="435.65" stroke="#3a3a3a" stroke-width="0.75"/>
<line x1="294.5" y1="444.05" x2="297.5" y2="444.05" stroke="#3a3a3a" stroke-width="0.75"/>
<line x1="303.9" y1="434.6" x2="303.9" y2="443" stroke="#3a3a3a" stroke-width="0.75"/>
<line x1="302.4" y1="434.6" x2="305.4" y2="434.6" stroke="#3a3a3a" stroke-width="0.75"/>
<line x1="302.4" y1="443" x2="305.4" y2="443" stroke="#3a3a3a" stroke-width="0.75"/>
<line x1="311.5" y1="433.55" x2="311.5" y2="441.95" stroke="#3a3a3a" stroke-width="0.75"/>
<line x1="310" y1="433.55" x2="313" y2="433.55" stroke="#3a3a3a" stroke-width="0.75"/>
<line x1="310" y1="441.95" x2="313" y2="441.95" stroke="#3a3a3a" stroke-width="0.75"/>
<line x1="319.4" y1="438.38" x2="319.4" y2="443.42" stroke="#3a3a3a" stroke-width="0.75"/>
<line x1="317.9" y1="438.38" x2="320.9" y2="438.38" stroke="#3a3a3a" stroke-width="0.75"/>
<line x1="317.9" y1="443.42" x2="320.9" y2="443.42" stroke="#3a3a3a" stroke-width="0.75"/>
<line x1="327.2" y1="438.38" x2="327.2" y2="443.42" stroke="#3a3a3a" stroke-width="0.75"/>
<line x1="325.7" y1="438.38" x2="328.7" y2="438.38" stroke="#3a3a3a" stroke-width="0.75"/>
<line x1="325.7" y1="443.42" x2="328.7" y2="443.42" stroke="#3a3a3a" stroke-width="0.75"/>
<line x1="334.3" y1="438.38" x2="334.3" y2="443.42" stroke="#3a3a3a" stroke-width="0.75"/>
<line x1="332.8" y1="438.38" x2="335.8" y2="438.38" stroke="#3a3a3a" stroke-width="0.75"/>
<line x1="332.8" y1="443.42" x2="335.8" y2="443.42" stroke="#3a3a3a" stroke-width="0.75"/>
<line x1="342.6" y1="456.02" x2="342.6" y2="462.32" stroke="#3a3a3a" stroke-width="0.75"/>
<line x1="341.1" y1="456.02" x2="344.1" y2="456.02" stroke="#3a3a3a" stroke-width="0.75"/>
<line x1="341.1" y1="462.32" x2="344.1" y2="462.32" stroke="#3a3a3a" stroke-width="0.75"/>
<line x1="349.9" y1="455.6" x2="349.9" y2="461.9" stroke="#3a3a3a" stroke-width="0.75"/>
<line x1="348.4" y1="455.6" x2="351.4" y2="455.6" stroke="#3a3a3a" stroke-width="0.75"/>
<line x1="348.4" y1="461.9" x2="351.4" y2="461.9" stroke="#3a3a3a" stroke-width="0.75"/>
<line x1="357.5" y1="455.6" x2="357.5" y2="461.9" stroke="#3a3a3a" stroke-width="0.75"/>
<line x1="356" y1="455.6" x2="359" y2="455.6" stroke="#3a3a3a" stroke-width="0.75"/>
<line x1="356" y1="461.9" x2="359" y2="461.9" stroke="#3a3a3a" stroke-width="0.75"/>
<line x1="365.2" y1="435.23" x2="365.2" y2="451.19" stroke="#3a3a3a" stroke-width="0.75"/>
<line x1="363.7" y1="435.23" x2="366.7" y2="435.23" stroke="#3a3a3a" stroke-width="0.75"/>
<line x1="363.7" y1="451.19" x2="366.7" y2="451.19" stroke="#3a3a3a" stroke-width="0.75"/>
<line x1="372.8" y1="441.32" x2="372.8" y2="455.18" stroke="#3a3a3a" stroke-width="0.75"/>
<line x1="371.3" y1="441.32" x2="374.3" y2="441.32" stroke="#3a3a3a" stroke-width="0.75"/>
<line x1="371.3" y1="455.18" x2="374.3" y2="455.18" stroke="#3a3a3a" stroke-width="0.75"/>
<line x1="380.3" y1="446.36" x2="380.3" y2="457.28" stroke="#3a3a3a" stroke-width="0.75"/>
<line x1="378.8" y1="446.36" x2="381.8" y2="446.36" stroke="#3a3a3a" stroke-width="0.75"/>
<line x1="378.8" y1="457.28" x2="381.8" y2="457.28" stroke="#3a3a3a" stroke-width="0.75"/>
<line x1="388.3" y1="464.42" x2="388.3" y2="467.78" stroke="#3a3a3a" stroke-width="0.75"/>
<line x1="386.8" y1="464.42" x2="389.8" y2="464.42" stroke="#3a3a3a" stroke-width="0.75"/>
<line x1="386.8" y1="467.78" x2="389.8" y2="467.78" stroke="#3a3a3a" stroke-width="0.75"/>
<line x1="395.6" y1="464.42" x2="395.6" y2="467.78" stroke="#3a3a3a" stroke-width="0.75"/>
<line x1="394.1" y1="464.42" x2="397.1" y2="464.42" stroke="#3a3a3a" stroke-width="0.75"/>
<line x1="394.1" y1="467.78" x2="397.1" y2="467.78" stroke="#3a3a3a" stroke-width="0.75"/>
<line x1="403.2" y1="464.42" x2="403.2" y2="467.78" stroke="#3a3a3a" stroke-width="0.75"/>
<line x1="401.7" y1="464.42" x2="404.7" y2="464.42" stroke="#3a3a3a" stroke-width="0.75"/>
<line x1="401.7" y1="467.78" x2="404.7" y2="467.78" stroke="#3a3a3a" stroke-width="0.75"/>
<polyline points="296,439.85 303.9,438.8 311.5,437.75 319.4,440.9 327.2,440.9 334.3,440.9 342.6,459.17 349.9,458.75 357.5,458.75 365.2,443.21 372.8,448.25 380.3,451.82 388.3,466.1 395.6,466.1 403.2,466.1" fill="none" stroke="#1b4679" stroke-width="1" stroke-linejoin="round"/>
<line x1="296" y1="436.7" x2="296" y2="445.1" stroke="#3a3a3a" stroke-width="0.75"/>
<line x1="294.5" y1="436.7" x2="297.5" y2="436.7" stroke="#3a3a3a" stroke-width="0.75"/>
<line x1="294.5" y1="445.1" x2="297.5" y2="445.1" stroke="#3a3a3a" stroke-width="0.75"/>
<line x1="303.9" y1="436.28" x2="303.9" y2="444.68" stroke="#3a3a3a" stroke-width="0.75"/>
<line x1="302.4" y1="436.28" x2="305.4" y2="436.28" stroke="#3a3a3a" stroke-width="0.75"/>
<line x1="302.4" y1="444.68" x2="305.4" y2="444.68" stroke="#3a3a3a" stroke-width="0.75"/>
<line x1="311.5" y1="435.65" x2="311.5" y2="444.05" stroke="#3a3a3a" stroke-width="0.75"/>
<line x1="310" y1="435.65" x2="313" y2="435.65" stroke="#3a3a3a" stroke-width="0.75"/>
<line x1="310" y1="444.05" x2="313" y2="444.05" stroke="#3a3a3a" stroke-width="0.75"/>
<line x1="319.4" y1="435.65" x2="319.4" y2="439.85" stroke="#3a3a3a" stroke-width="0.75"/>
<line x1="317.9" y1="435.65" x2="320.9" y2="435.65" stroke="#3a3a3a" stroke-width="0.75"/>
<line x1="317.9" y1="439.85" x2="320.9" y2="439.85" stroke="#3a3a3a" stroke-width="0.75"/>
<line x1="327.2" y1="435.65" x2="327.2" y2="439.85" stroke="#3a3a3a" stroke-width="0.75"/>
<line x1="325.7" y1="435.65" x2="328.7" y2="435.65" stroke="#3a3a3a" stroke-width="0.75"/>
<line x1="325.7" y1="439.85" x2="328.7" y2="439.85" stroke="#3a3a3a" stroke-width="0.75"/>
<line x1="334.3" y1="435.65" x2="334.3" y2="439.85" stroke="#3a3a3a" stroke-width="0.75"/>
<line x1="332.8" y1="435.65" x2="335.8" y2="435.65" stroke="#3a3a3a" stroke-width="0.75"/>
<line x1="332.8" y1="439.85" x2="335.8" y2="439.85" stroke="#3a3a3a" stroke-width="0.75"/>
<line x1="342.6" y1="453.5" x2="342.6" y2="458.54" stroke="#3a3a3a" stroke-width="0.75"/>
<line x1="341.1" y1="453.5" x2="344.1" y2="453.5" stroke="#3a3a3a" stroke-width="0.75"/>
<line x1="341.1" y1="458.54" x2="344.1" y2="458.54" stroke="#3a3a3a" stroke-width="0.75"/>
<line x1="349.9" y1="453.08" x2="349.9" y2="458.12" stroke="#3a3a3a" stroke-width="0.75"/>
<line x1="348.4" y1="453.08" x2="351.4" y2="453.08" stroke="#3a3a3a" stroke-width="0.75"/>
<line x1="348.4" y1="458.12" x2="351.4" y2="458.12" stroke="#3a3a3a" stroke-width="0.75"/>
<line x1="357.5" y1="453.08" x2="357.5" y2="458.12" stroke="#3a3a3a" stroke-width="0.75"/>
<line x1="356" y1="453.08" x2="359" y2="453.08" stroke="#3a3a3a" stroke-width="0.75"/>
<line x1="356" y1="458.12" x2="359" y2="458.12" stroke="#3a3a3a" stroke-width="0.75"/>
<line x1="365.2" y1="402.26" x2="365.2" y2="422.42" stroke="#3a3a3a" stroke-width="0.75"/>
<line x1="363.7" y1="402.26" x2="366.7" y2="402.26" stroke="#3a3a3a" stroke-width="0.75"/>
<line x1="363.7" y1="422.42" x2="366.7" y2="422.42" stroke="#3a3a3a" stroke-width="0.75"/>
<line x1="372.8" y1="410.24" x2="372.8" y2="429.14" stroke="#3a3a3a" stroke-width="0.75"/>
<line x1="371.3" y1="410.24" x2="374.3" y2="410.24" stroke="#3a3a3a" stroke-width="0.75"/>
<line x1="371.3" y1="429.14" x2="374.3" y2="429.14" stroke="#3a3a3a" stroke-width="0.75"/>
<line x1="380.3" y1="416.75" x2="380.3" y2="430.61" stroke="#3a3a3a" stroke-width="0.75"/>
<line x1="378.8" y1="416.75" x2="381.8" y2="416.75" stroke="#3a3a3a" stroke-width="0.75"/>
<line x1="378.8" y1="430.61" x2="381.8" y2="430.61" stroke="#3a3a3a" stroke-width="0.75"/>
<line x1="388.3" y1="463.79" x2="388.3" y2="467.15" stroke="#3a3a3a" stroke-width="0.75"/>
<line x1="386.8" y1="463.79" x2="389.8" y2="463.79" stroke="#3a3a3a" stroke-width="0.75"/>
<line x1="386.8" y1="467.15" x2="389.8" y2="467.15" stroke="#3a3a3a" stroke-width="0.75"/>
<line x1="395.6" y1="463.79" x2="395.6" y2="467.15" stroke="#3a3a3a" stroke-width="0.75"/>
<line x1="394.1" y1="463.79" x2="397.1" y2="463.79" stroke="#3a3a3a" stroke-width="0.75"/>
<line x1="394.1" y1="467.15" x2="397.1" y2="467.15" stroke="#3a3a3a" stroke-width="0.75"/>
<line x1="403.2" y1="463.79" x2="403.2" y2="467.15" stroke="#3a3a3a" stroke-width="0.75"/>
<line x1="401.7" y1="463.79" x2="404.7" y2="463.79" stroke="#3a3a3a" stroke-width="0.75"/>
<line x1="401.7" y1="467.15" x2="404.7" y2="467.15" stroke="#3a3a3a" stroke-width="0.75"/>
<polyline points="296,440.9 303.9,440.48 311.5,439.85 319.4,437.75 327.2,437.75 334.3,437.75 342.6,456.02 349.9,455.6 357.5,455.6 365.2,412.34 372.8,419.69 380.3,423.68 388.3,465.47 395.6,465.47 403.2,465.47" fill="none" stroke="#F39200" stroke-width="1" stroke-linejoin="round"/>
<line x1="296" y1="438.8" x2="296" y2="445.1" stroke="#3a3a3a" stroke-width="0.75"/>
<line x1="294.5" y1="438.8" x2="297.5" y2="438.8" stroke="#3a3a3a" stroke-width="0.75"/>
<line x1="294.5" y1="445.1" x2="297.5" y2="445.1" stroke="#3a3a3a" stroke-width="0.75"/>
<line x1="303.9" y1="438.38" x2="303.9" y2="444.68" stroke="#3a3a3a" stroke-width="0.75"/>
<line x1="302.4" y1="438.38" x2="305.4" y2="438.38" stroke="#3a3a3a" stroke-width="0.75"/>
<line x1="302.4" y1="444.68" x2="305.4" y2="444.68" stroke="#3a3a3a" stroke-width="0.75"/>
<line x1="311.5" y1="437.75" x2="311.5" y2="444.05" stroke="#3a3a3a" stroke-width="0.75"/>
<line x1="310" y1="437.75" x2="313" y2="437.75" stroke="#3a3a3a" stroke-width="0.75"/>
<line x1="310" y1="444.05" x2="313" y2="444.05" stroke="#3a3a3a" stroke-width="0.75"/>
<line x1="319.4" y1="435.86" x2="319.4" y2="440.06" stroke="#3a3a3a" stroke-width="0.75"/>
<line x1="317.9" y1="435.86" x2="320.9" y2="435.86" stroke="#3a3a3a" stroke-width="0.75"/>
<line x1="317.9" y1="440.06" x2="320.9" y2="440.06" stroke="#3a3a3a" stroke-width="0.75"/>
<line x1="327.2" y1="435.86" x2="327.2" y2="440.06" stroke="#3a3a3a" stroke-width="0.75"/>
<line x1="325.7" y1="435.86" x2="328.7" y2="435.86" stroke="#3a3a3a" stroke-width="0.75"/>
<line x1="325.7" y1="440.06" x2="328.7" y2="440.06" stroke="#3a3a3a" stroke-width="0.75"/>
<line x1="334.3" y1="435.86" x2="334.3" y2="440.06" stroke="#3a3a3a" stroke-width="0.75"/>
<line x1="332.8" y1="435.86" x2="335.8" y2="435.86" stroke="#3a3a3a" stroke-width="0.75"/>
<line x1="332.8" y1="440.06" x2="335.8" y2="440.06" stroke="#3a3a3a" stroke-width="0.75"/>
<line x1="342.6" y1="452.24" x2="342.6" y2="457.28" stroke="#3a3a3a" stroke-width="0.75"/>
<line x1="341.1" y1="452.24" x2="344.1" y2="452.24" stroke="#3a3a3a" stroke-width="0.75"/>
<line x1="341.1" y1="457.28" x2="344.1" y2="457.28" stroke="#3a3a3a" stroke-width="0.75"/>
<line x1="349.9" y1="451.4" x2="349.9" y2="456.44" stroke="#3a3a3a" stroke-width="0.75"/>
<line x1="348.4" y1="451.4" x2="351.4" y2="451.4" stroke="#3a3a3a" stroke-width="0.75"/>
<line x1="348.4" y1="456.44" x2="351.4" y2="456.44" stroke="#3a3a3a" stroke-width="0.75"/>
<line x1="357.5" y1="451.4" x2="357.5" y2="456.44" stroke="#3a3a3a" stroke-width="0.75"/>
<line x1="356" y1="451.4" x2="359" y2="451.4" stroke="#3a3a3a" stroke-width="0.75"/>
<line x1="356" y1="456.44" x2="359" y2="456.44" stroke="#3a3a3a" stroke-width="0.75"/>
<line x1="365.2" y1="439.01" x2="365.2" y2="447.41" stroke="#3a3a3a" stroke-width="0.75"/>
<line x1="363.7" y1="439.01" x2="366.7" y2="439.01" stroke="#3a3a3a" stroke-width="0.75"/>
<line x1="363.7" y1="447.41" x2="366.7" y2="447.41" stroke="#3a3a3a" stroke-width="0.75"/>
<line x1="372.8" y1="444.05" x2="372.8" y2="452.45" stroke="#3a3a3a" stroke-width="0.75"/>
<line x1="371.3" y1="444.05" x2="374.3" y2="444.05" stroke="#3a3a3a" stroke-width="0.75"/>
<line x1="371.3" y1="452.45" x2="374.3" y2="452.45" stroke="#3a3a3a" stroke-width="0.75"/>
<line x1="380.3" y1="447.62" x2="380.3" y2="456.02" stroke="#3a3a3a" stroke-width="0.75"/>
<line x1="378.8" y1="447.62" x2="381.8" y2="447.62" stroke="#3a3a3a" stroke-width="0.75"/>
<line x1="378.8" y1="456.02" x2="381.8" y2="456.02" stroke="#3a3a3a" stroke-width="0.75"/>
<line x1="388.3" y1="464.84" x2="388.3" y2="468.2" stroke="#3a3a3a" stroke-width="0.75"/>
<line x1="386.8" y1="464.84" x2="389.8" y2="464.84" stroke="#3a3a3a" stroke-width="0.75"/>
<line x1="386.8" y1="468.2" x2="389.8" y2="468.2" stroke="#3a3a3a" stroke-width="0.75"/>
<line x1="395.6" y1="464.84" x2="395.6" y2="468.2" stroke="#3a3a3a" stroke-width="0.75"/>
<line x1="394.1" y1="464.84" x2="397.1" y2="464.84" stroke="#3a3a3a" stroke-width="0.75"/>
<line x1="394.1" y1="468.2" x2="397.1" y2="468.2" stroke="#3a3a3a" stroke-width="0.75"/>
<line x1="403.2" y1="464.84" x2="403.2" y2="468.2" stroke="#3a3a3a" stroke-width="0.75"/>
<line x1="401.7" y1="464.84" x2="404.7" y2="464.84" stroke="#3a3a3a" stroke-width="0.75"/>
<line x1="401.7" y1="468.2" x2="404.7" y2="468.2" stroke="#3a3a3a" stroke-width="0.75"/>
<polyline points="296,441.95 303.9,441.53 311.5,440.9 319.4,437.96 327.2,437.96 334.3,437.96 342.6,454.76 349.9,453.92 357.5,453.92 365.2,443.21 372.8,448.25 380.3,451.82 388.3,466.52 395.6,466.52 403.2,466.52" fill="none" stroke="#F39200" stroke-width="1" stroke-linejoin="round"/>
<circle cx="296" cy="438.8" r="1.35" fill="#1b4679" stroke="#1b4679" stroke-width="0.8"/>
<circle cx="303.9" cy="436.28" r="1.35" fill="#1b4679" stroke="#1b4679" stroke-width="0.8"/>
<circle cx="311.5" cy="434.6" r="1.35" fill="#1b4679" stroke="#1b4679" stroke-width="0.8"/>
<circle cx="319.4" cy="434.6" r="1.35" fill="#1b4679" stroke="#1b4679" stroke-width="0.8"/>
<circle cx="327.2" cy="434.18" r="1.35" fill="#1b4679" stroke="#1b4679" stroke-width="0.8"/>
<circle cx="334.3" cy="434.18" r="1.35" fill="#1b4679" stroke="#1b4679" stroke-width="0.8"/>
<circle cx="342.6" cy="458.54" r="1.35" fill="#1b4679" stroke="#1b4679" stroke-width="0.8"/>
<circle cx="349.9" cy="458.12" r="1.35" fill="#1b4679" stroke="#1b4679" stroke-width="0.8"/>
<circle cx="357.5" cy="458.12" r="1.35" fill="#1b4679" stroke="#1b4679" stroke-width="0.8"/>
<circle cx="365.2" cy="437.75" r="1.35" fill="#1b4679" stroke="#1b4679" stroke-width="0.8"/>
<circle cx="372.8" cy="441.32" r="1.35" fill="#1b4679" stroke="#1b4679" stroke-width="0.8"/>
<circle cx="380.3" cy="444.68" r="1.35" fill="#1b4679" stroke="#1b4679" stroke-width="0.8"/>
<circle cx="388.3" cy="465.47" r="1.35" fill="#1b4679" stroke="#1b4679" stroke-width="0.8"/>
<circle cx="395.6" cy="465.47" r="1.35" fill="#1b4679" stroke="#1b4679" stroke-width="0.8"/>
<circle cx="403.2" cy="465.47" r="1.35" fill="#1b4679" stroke="#1b4679" stroke-width="0.8"/>
<circle cx="296" cy="439.85" r="1.6" fill="#fff" stroke="#1b4679" stroke-width="1.15"/>
<circle cx="303.9" cy="438.8" r="1.6" fill="#fff" stroke="#1b4679" stroke-width="1.15"/>
<circle cx="311.5" cy="437.75" r="1.6" fill="#fff" stroke="#1b4679" stroke-width="1.15"/>
<circle cx="319.4" cy="440.9" r="1.6" fill="#fff" stroke="#1b4679" stroke-width="1.15"/>
<circle cx="327.2" cy="440.9" r="1.6" fill="#fff" stroke="#1b4679" stroke-width="1.15"/>
<circle cx="334.3" cy="440.9" r="1.6" fill="#fff" stroke="#1b4679" stroke-width="1.15"/>
<circle cx="342.6" cy="459.17" r="1.6" fill="#fff" stroke="#1b4679" stroke-width="1.15"/>
<circle cx="349.9" cy="458.75" r="1.6" fill="#fff" stroke="#1b4679" stroke-width="1.15"/>
<circle cx="357.5" cy="458.75" r="1.6" fill="#fff" stroke="#1b4679" stroke-width="1.15"/>
<circle cx="365.2" cy="443.21" r="1.6" fill="#fff" stroke="#1b4679" stroke-width="1.15"/>
<circle cx="372.8" cy="448.25" r="1.6" fill="#fff" stroke="#1b4679" stroke-width="1.15"/>
<circle cx="380.3" cy="451.82" r="1.6" fill="#fff" stroke="#1b4679" stroke-width="1.15"/>
<circle cx="388.3" cy="466.1" r="1.6" fill="#fff" stroke="#1b4679" stroke-width="1.15"/>
<circle cx="395.6" cy="466.1" r="1.6" fill="#fff" stroke="#1b4679" stroke-width="1.15"/>
<circle cx="403.2" cy="466.1" r="1.6" fill="#fff" stroke="#1b4679" stroke-width="1.15"/>
<circle cx="296" cy="440.9" r="1.35" fill="#F39200" stroke="#F39200" stroke-width="0.8"/>
<circle cx="303.9" cy="440.48" r="1.35" fill="#F39200" stroke="#F39200" stroke-width="0.8"/>
<circle cx="311.5" cy="439.85" r="1.35" fill="#F39200" stroke="#F39200" stroke-width="0.8"/>
<circle cx="319.4" cy="437.75" r="1.35" fill="#F39200" stroke="#F39200" stroke-width="0.8"/>
<circle cx="327.2" cy="437.75" r="1.35" fill="#F39200" stroke="#F39200" stroke-width="0.8"/>
<circle cx="334.3" cy="437.75" r="1.35" fill="#F39200" stroke="#F39200" stroke-width="0.8"/>
<circle cx="342.6" cy="456.02" r="1.35" fill="#F39200" stroke="#F39200" stroke-width="0.8"/>
<circle cx="349.9" cy="455.6" r="1.35" fill="#F39200" stroke="#F39200" stroke-width="0.8"/>
<circle cx="357.5" cy="455.6" r="1.35" fill="#F39200" stroke="#F39200" stroke-width="0.8"/>
<circle cx="365.2" cy="412.34" r="1.35" fill="#F39200" stroke="#F39200" stroke-width="0.8"/>
<circle cx="372.8" cy="419.69" r="1.35" fill="#F39200" stroke="#F39200" stroke-width="0.8"/>
<circle cx="380.3" cy="423.68" r="1.35" fill="#F39200" stroke="#F39200" stroke-width="0.8"/>
<circle cx="388.3" cy="465.47" r="1.35" fill="#F39200" stroke="#F39200" stroke-width="0.8"/>
<circle cx="395.6" cy="465.47" r="1.35" fill="#F39200" stroke="#F39200" stroke-width="0.8"/>
<circle cx="403.2" cy="465.47" r="1.35" fill="#F39200" stroke="#F39200" stroke-width="0.8"/>
<circle cx="296" cy="441.95" r="1.6" fill="#fff" stroke="#F39200" stroke-width="1.15"/>
<circle cx="303.9" cy="441.53" r="1.6" fill="#fff" stroke="#F39200" stroke-width="1.15"/>
<circle cx="311.5" cy="440.9" r="1.6" fill="#fff" stroke="#F39200" stroke-width="1.15"/>
<circle cx="319.4" cy="437.96" r="1.6" fill="#fff" stroke="#F39200" stroke-width="1.15"/>
<circle cx="327.2" cy="437.96" r="1.6" fill="#fff" stroke="#F39200" stroke-width="1.15"/>
<circle cx="334.3" cy="437.96" r="1.6" fill="#fff" stroke="#F39200" stroke-width="1.15"/>
<circle cx="342.6" cy="454.76" r="1.6" fill="#fff" stroke="#F39200" stroke-width="1.15"/>
<circle cx="349.9" cy="453.92" r="1.6" fill="#fff" stroke="#F39200" stroke-width="1.15"/>
<circle cx="357.5" cy="453.92" r="1.6" fill="#fff" stroke="#F39200" stroke-width="1.15"/>
<circle cx="365.2" cy="443.21" r="1.6" fill="#fff" stroke="#F39200" stroke-width="1.15"/>
<circle cx="372.8" cy="448.25" r="1.6" fill="#fff" stroke="#F39200" stroke-width="1.15"/>
<circle cx="380.3" cy="451.82" r="1.6" fill="#fff" stroke="#F39200" stroke-width="1.15"/>
<circle cx="388.3" cy="466.52" r="1.6" fill="#fff" stroke="#F39200" stroke-width="1.15"/>
<circle cx="395.6" cy="466.52" r="1.6" fill="#fff" stroke="#F39200" stroke-width="1.15"/>
<circle cx="403.2" cy="466.52" r="1.6" fill="#fff" stroke="#F39200" stroke-width="1.15"/>
<text x="491.3" y="362.8" font-size="7.8" text-anchor="middle" font-weight="normal" font-style="normal" fill="#2a2a2a">Maximal</text>
<text x="491.3" y="372.8" font-size="7.8" text-anchor="middle" font-weight="normal" font-style="normal" fill="#2a2a2a">Respiration</text>
<line x1="468.4" y1="384.1" x2="468.4" y2="473.25" stroke="#2a2a2a" stroke-width="1"/>
<line x1="465.4" y1="472.75" x2="468.4" y2="472.75" stroke="#2a2a2a" stroke-width="1"/>
<text x="461.4" y="474.95" font-size="6.1" text-anchor="end" font-weight="normal" font-style="normal" fill="#2a2a2a" class="k">0</text>
<line x1="465.4" y1="444.1" x2="468.4" y2="444.1" stroke="#2a2a2a" stroke-width="1"/>
<text x="461.4" y="446.3" font-size="6.1" text-anchor="end" font-weight="normal" font-style="normal" fill="#2a2a2a" class="k">100</text>
<line x1="465.4" y1="415.45" x2="468.4" y2="415.45" stroke="#2a2a2a" stroke-width="1"/>
<text x="461.4" y="417.65" font-size="6.1" text-anchor="end" font-weight="normal" font-style="normal" fill="#2a2a2a" class="k">200</text>
<line x1="465.4" y1="386.8" x2="468.4" y2="386.8" stroke="#2a2a2a" stroke-width="1"/>
<text x="461.4" y="389" font-size="6.1" text-anchor="end" font-weight="normal" font-style="normal" fill="#2a2a2a" class="k">300</text>
<line x1="468.4" y1="472.75" x2="513.3" y2="472.75" stroke="#2a2a2a" stroke-width="1"/>
<text class="t" x="445.4" y="428.1" font-size="6.2" text-anchor="middle" fill="#2a2a2a" transform="rotate(-90 445.4 428.1)" textLength="41.5" lengthAdjust="spacingAndGlyphs">OCR (pmol/min)</text>
<rect x="471.2" y="432.64" width="7.6" height="40.11" fill="#155090"/>
<rect x="481.95" y="446.97" width="7.6" height="25.78" fill="#155090"/>
<rect x="492.95" y="402.56" width="7.6" height="70.19" fill="#F39200"/>
<rect x="503.7" y="439.8" width="7.6" height="32.95" fill="#F39200"/>
<line x1="475" y1="428.34" x2="475" y2="436.94" stroke="#333" stroke-width="0.8"/>
<line x1="473.5" y1="428.34" x2="476.5" y2="428.34" stroke="#333" stroke-width="0.8"/>
<line x1="473.5" y1="436.94" x2="476.5" y2="436.94" stroke="#333" stroke-width="0.8"/>
<line x1="485.75" y1="439.23" x2="485.75" y2="454.7" stroke="#333" stroke-width="0.8"/>
<line x1="484.25" y1="439.23" x2="487.25" y2="439.23" stroke="#333" stroke-width="0.8"/>
<line x1="484.25" y1="454.7" x2="487.25" y2="454.7" stroke="#333" stroke-width="0.8"/>
<line x1="496.75" y1="383.94" x2="496.75" y2="421.18" stroke="#333" stroke-width="0.8"/>
<line x1="495.25" y1="383.94" x2="498.25" y2="383.94" stroke="#333" stroke-width="0.8"/>
<line x1="495.25" y1="421.18" x2="498.25" y2="421.18" stroke="#333" stroke-width="0.8"/>
<line x1="507.5" y1="437.51" x2="507.5" y2="442.09" stroke="#333" stroke-width="0.8"/>
<line x1="506" y1="437.51" x2="509" y2="437.51" stroke="#333" stroke-width="0.8"/>
<line x1="506" y1="442.09" x2="509" y2="442.09" stroke="#333" stroke-width="0.8"/>
<line x1="475.5" y1="472.75" x2="475.5" y2="475.75" stroke="#2a2a2a" stroke-width="1"/>
<line x1="485.5" y1="472.75" x2="485.5" y2="475.75" stroke="#2a2a2a" stroke-width="1"/>
<line x1="496.5" y1="472.75" x2="496.5" y2="475.75" stroke="#2a2a2a" stroke-width="1"/>
<line x1="507.5" y1="472.75" x2="507.5" y2="475.75" stroke="#2a2a2a" stroke-width="1"/>
<line x1="473.8" y1="482.3" x2="476.2" y2="482.3" stroke="#333" stroke-width="0.8"/>
<line x1="484.45" y1="482.3" x2="487.05" y2="482.3" stroke="#333" stroke-width="0.8"/>
<line x1="485.75" y1="481" x2="485.75" y2="483.6" stroke="#333" stroke-width="0.8"/>
<line x1="495.55" y1="482.3" x2="497.95" y2="482.3" stroke="#333" stroke-width="0.8"/>
<line x1="506.2" y1="482.3" x2="508.8" y2="482.3" stroke="#333" stroke-width="0.8"/>
<line x1="507.5" y1="481" x2="507.5" y2="483.6" stroke="#333" stroke-width="0.8"/>
<line x1="472.3" y1="488.5" x2="509.8" y2="488.5" stroke="#2a2a2a" stroke-width="1"/>
<text class="t" x="491.35" y="498.4" font-size="8" text-anchor="middle" fill="#2a2a2a" textLength="21.9" lengthAdjust="spacingAndGlyphs">Etomoxir</text>
<rect x="465.2" y="506.4" width="4.6" height="4.6" fill="#1e3f6e"/>
<text x="472.9" y="510.7" font-size="6.2" text-anchor="start" font-weight="normal" font-style="normal" fill="#2a2a2a">Control vector</text>
<rect x="465.2" y="516.7" width="4.6" height="4.6" fill="#E48A55"/>
<text x="472.9" y="520.7" font-size="6.2" fill="#2a2a2a"><tspan font-style="italic">PPARG</tspan>-OE</text>
<rect x="0" y="0" width="520" height="1" fill="#6a6a6a"/><rect x="0" y="0" width="1" height="528" fill="#5a5a5a"/><rect x="519" y="0" width="1" height="528" fill="#4a4a4a"/><rect x="0" y="526" width="520" height="1" fill="#8a8a8a"/><rect x="0" y="527" width="520" height="1" fill="#3a3a3a"/>
</svg>
</body></html>
